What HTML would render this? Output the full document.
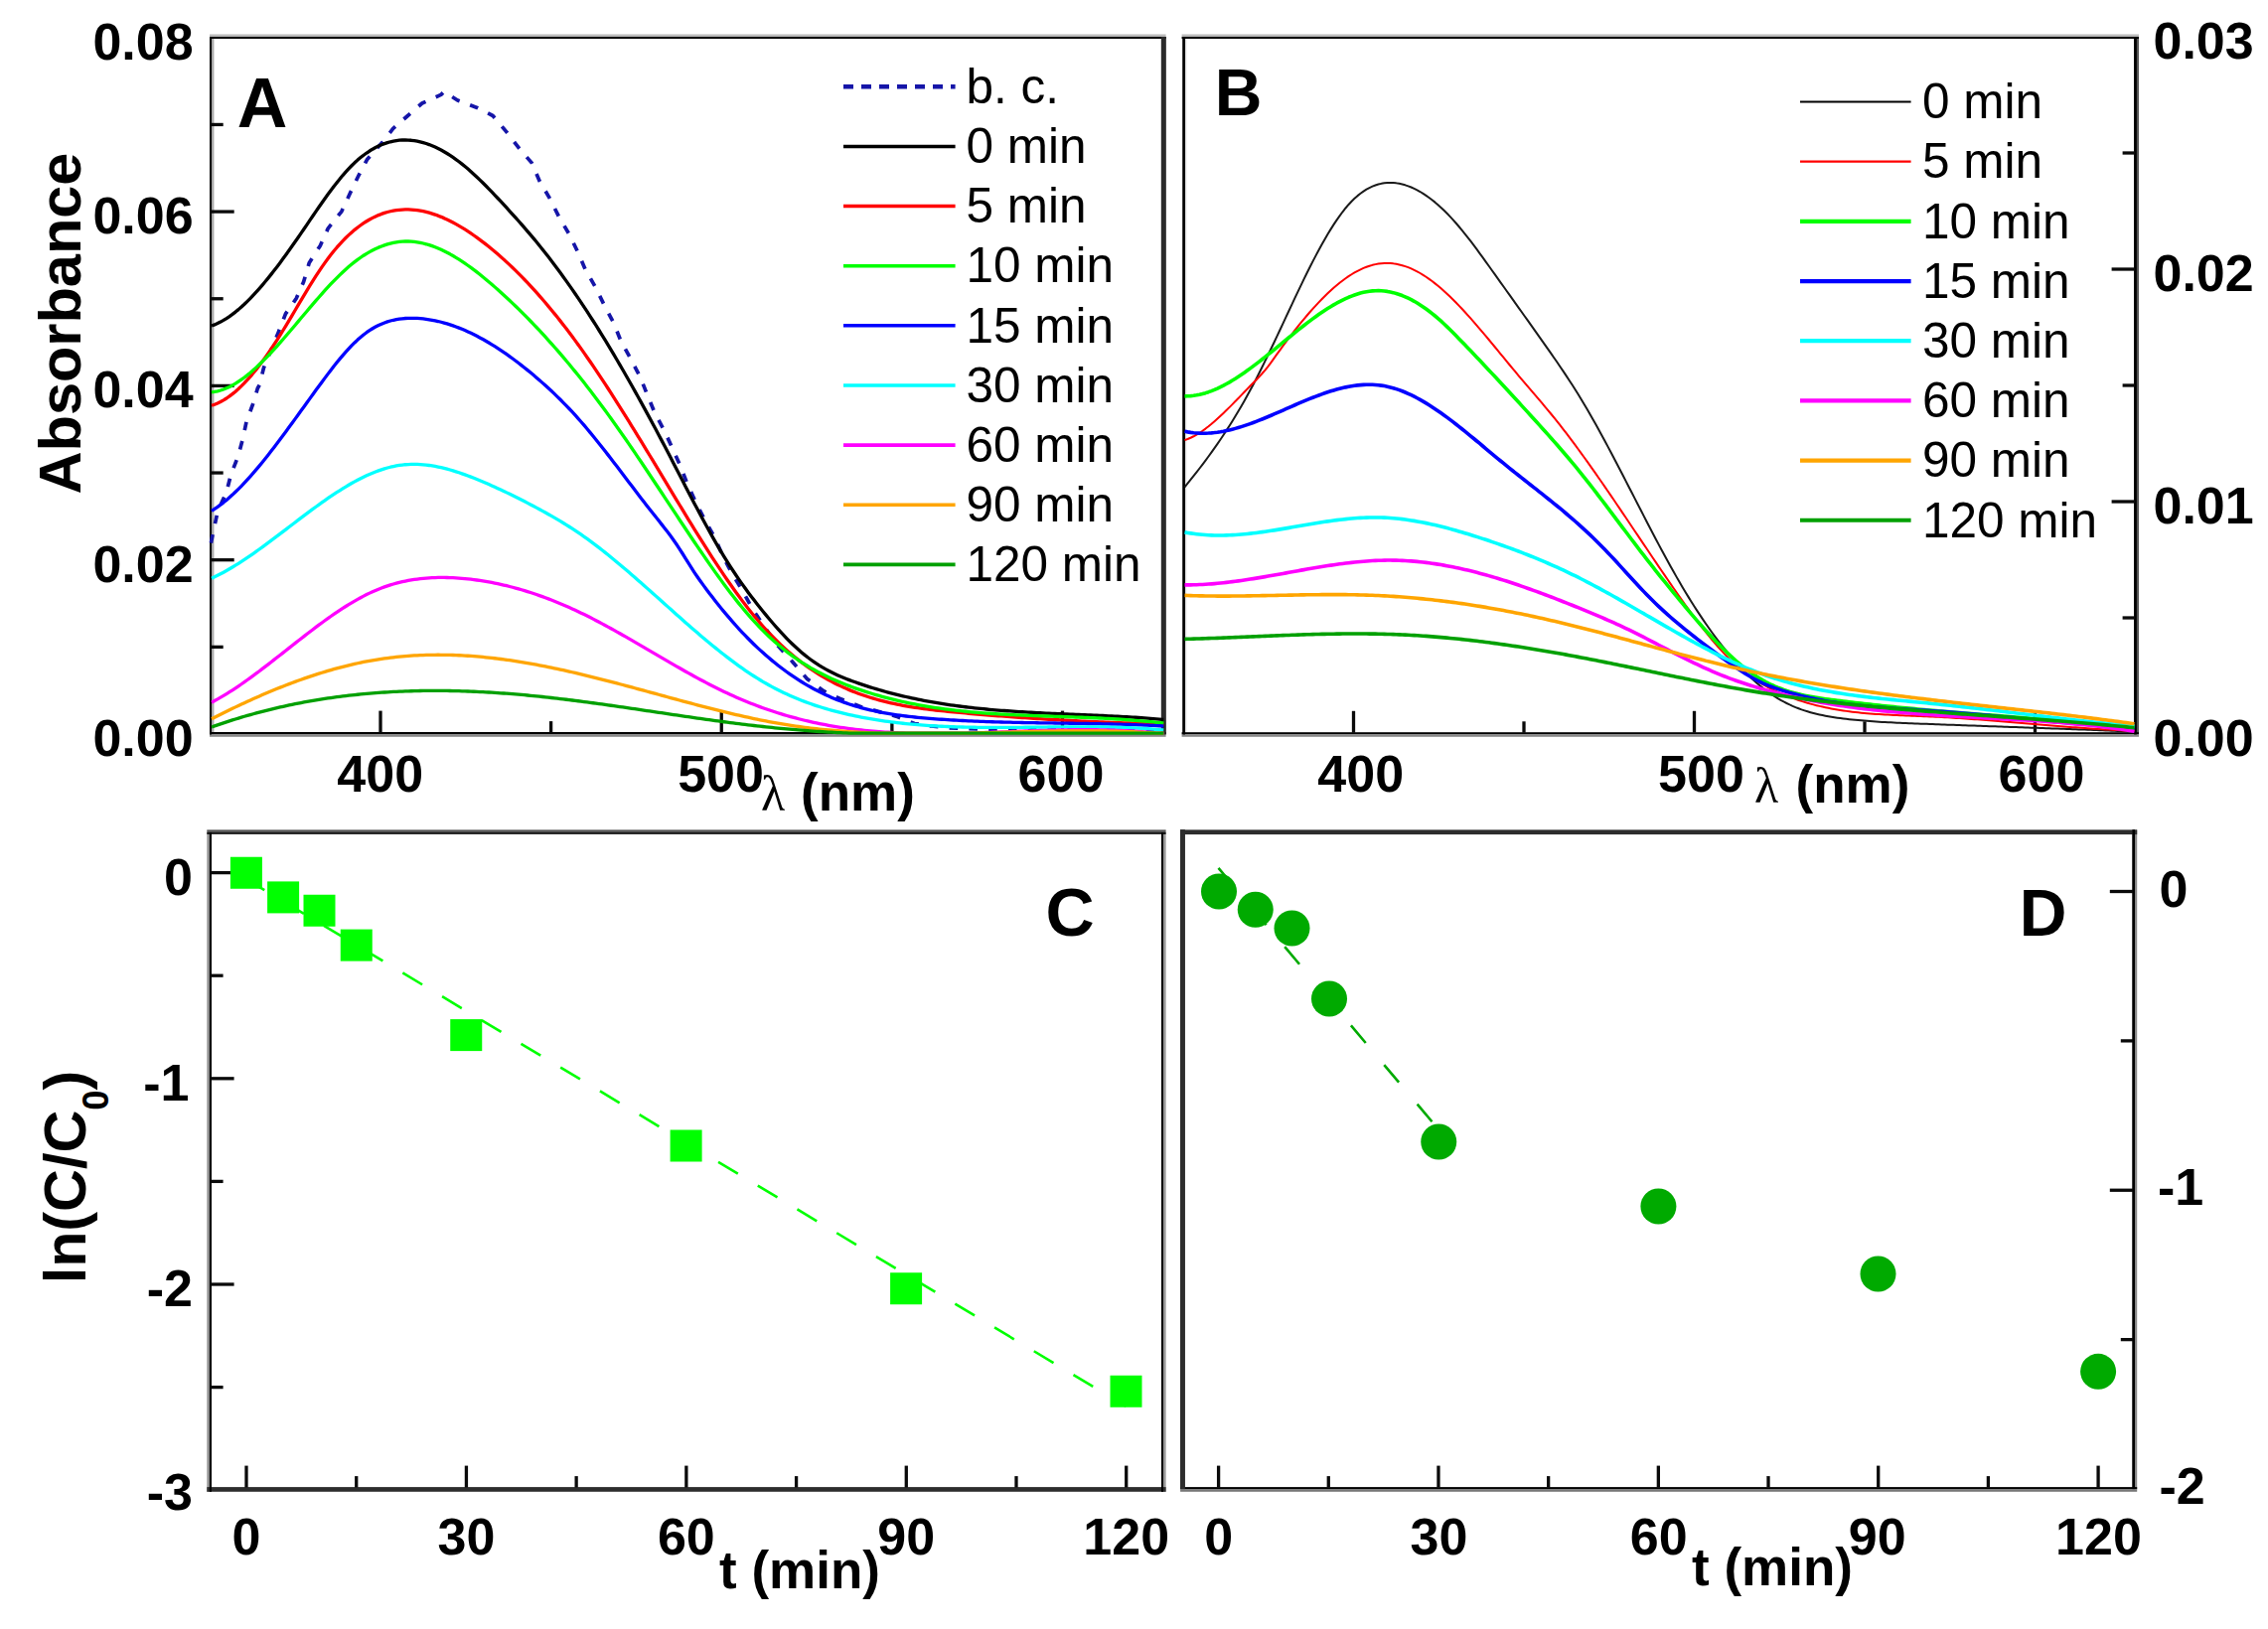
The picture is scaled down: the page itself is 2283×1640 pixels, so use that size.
<!DOCTYPE html>
<html lang="en"><head><meta charset="utf-8"><title>Figure</title>
<style>html,body{margin:0;padding:0;background:#fff}svg{display:block}</style></head>
<body>
<svg width="2283" height="1640" viewBox="0 0 2283 1640">
<rect width="2283" height="1640" fill="#ffffff"/>
<rect x="211" y="37" width="2" height="702.4" fill="#000"/>
<rect x="213" y="37" width="2.4" height="702.4" fill="#aaa"/>
<rect x="1168.9" y="37" width="4.7" height="702.4" fill="#2a2a2a"/>
<rect x="211" y="34.5" width="962.6" height="2.5" fill="#bbb"/>
<rect x="211" y="37" width="962.6" height="2" fill="#000"/>
<rect x="211" y="737" width="962.6" height="2.4" fill="#000"/>
<rect x="211" y="739.4" width="962.6" height="2.4" fill="#888"/>
<rect x="211" y="37" width="2" height="702.4" fill="#000"/>
<rect x="1168.9" y="37" width="4.7" height="702.4" fill="#2a2a2a"/>
<line x1="212.5" y1="213.1" x2="235.7" y2="213.1" stroke="#0a0a0a" stroke-width="3.3"/>
<line x1="212.5" y1="388.4" x2="235.7" y2="388.4" stroke="#0a0a0a" stroke-width="3.3"/>
<line x1="212.5" y1="563.7" x2="235.7" y2="563.7" stroke="#0a0a0a" stroke-width="3.3"/>
<line x1="212.5" y1="125.45" x2="224.7" y2="125.45" stroke="#0a0a0a" stroke-width="3.3"/>
<line x1="212.5" y1="300.75" x2="224.7" y2="300.75" stroke="#0a0a0a" stroke-width="3.3"/>
<line x1="212.5" y1="476.05" x2="224.7" y2="476.05" stroke="#0a0a0a" stroke-width="3.3"/>
<line x1="212.5" y1="651.35" x2="224.7" y2="651.35" stroke="#0a0a0a" stroke-width="3.3"/>
<line x1="383" y1="737.6" x2="383" y2="715.6" stroke="#0a0a0a" stroke-width="3.3"/>
<line x1="726.25" y1="737.6" x2="726.25" y2="715.6" stroke="#0a0a0a" stroke-width="3.3"/>
<line x1="1069.5" y1="737.6" x2="1069.5" y2="715.6" stroke="#0a0a0a" stroke-width="3.3"/>
<line x1="554.62" y1="737.6" x2="554.62" y2="726.1" stroke="#0a0a0a" stroke-width="3.3"/>
<line x1="897.88" y1="737.6" x2="897.88" y2="726.1" stroke="#0a0a0a" stroke-width="3.3"/>
<text x="194.6" y="59.82" font-family='"Liberation Sans", sans-serif' font-size="52" font-weight="bold" text-anchor="end" fill="#000">0.08</text>
<text x="194.6" y="235.12" font-family='"Liberation Sans", sans-serif' font-size="52" font-weight="bold" text-anchor="end" fill="#000">0.06</text>
<text x="194.6" y="410.42" font-family='"Liberation Sans", sans-serif' font-size="52" font-weight="bold" text-anchor="end" fill="#000">0.04</text>
<text x="194.6" y="585.72" font-family='"Liberation Sans", sans-serif' font-size="52" font-weight="bold" text-anchor="end" fill="#000">0.02</text>
<text x="194.6" y="761.02" font-family='"Liberation Sans", sans-serif' font-size="52" font-weight="bold" text-anchor="end" fill="#000">0.00</text>
<text x="382.75" y="797.3" font-family='"Liberation Sans", sans-serif' font-size="52" font-weight="bold" text-anchor="middle" fill="#000">400</text>
<text x="725.6" y="797.3" font-family='"Liberation Sans", sans-serif' font-size="52" font-weight="bold" text-anchor="middle" fill="#000">500</text>
<text x="1068" y="797.3" font-family='"Liberation Sans", sans-serif' font-size="52" font-weight="bold" text-anchor="middle" fill="#000">600</text>
<g fill="none" stroke-linejoin="round" stroke-linecap="butt">
<path d="M212.4 546.6 L215.5 531.7 L219.2 514.5 L227.8 495.9 L232.4 478 L239.6 459.5 L244.5 441.6 L248.2 423.7 L255 405.8 L259.3 391 L261.2 387.5 L265.5 370.2 L280.3 334.4 L287.5 315.9 L298.2 300.5 L305.6 283.8 L311.2 264.7 L322.3 247.4 L330.3 229.8 L343.9 212.8 L352.5 194.3 L361.2 176.3 L369.8 160.2 L385.2 142.9 L395.7 129.4 L409.9 117 L424.8 104 L443.9 95.4 L447 92.3 L460.6 101 L480.3 108.4 L496.1 116.5 L509.7 132.6 L523.5 150.5 L535.4 164.1 L543 182 L553.5 199.9 L562.4 217.8 L572.9 235.7 L581.3 253 L589.3 271.5 L599.2 288.8 L608.5 307.7 L617.7 325 L625.1 343.5 L635 361.4 L644.3 379.3 L651.7 397.8 L659.1 415.7 L669 434.2 L677 451.5 L685 469.4 L692.4 488.5 L699.8 504.3 L709.7 524.1 L719.6 541.4 L728.2 561.1 L736.9 577.2 L748 595.7 L757.8 613.6 L770 632 L783 650 L797.7 666.2 L812.5 683.5 L829.2 695.8 L845.2 703.2 L867.5 711.9 L885 716.5 L902 721.1 L920.6 728.5 L937.2 731 L954.5 732.8 L973.6 733.5 L992.2 734.3 L1010 734.7 L1045 734.7 L1100 735 L1169 735.5" stroke="#1515a8" stroke-width="3.7" stroke-dasharray="8.6 11.2"/>
<path d="M213 328.04 L216 326.91 L219 325.6 L222 324.1 L225 322.43 L228 320.59 L231 318.59 L234 316.42 L237 314.1 L240 311.63 L243 309.01 L246 306.26 L249 303.37 L252 300.36 L255 297.22 L258 293.97 L261 290.6 L264 287.13 L267 283.56 L270 279.9 L273 276.14 L276 272.3 L279 268.38 L282 264.39 L285 260.33 L288 256.21 L291 252.03 L294 247.8 L297 243.52 L300 239.2 L303 234.84 L306 230.46 L309 226.06 L312 221.65 L315 217.25 L318 212.87 L321 208.52 L324 204.22 L327 199.98 L330 195.82 L333 191.74 L336 187.76 L339 183.9 L342 180.16 L345 176.56 L348 173.12 L351 169.84 L354 166.75 L357 163.84 L360 161.11 L363 158.57 L366 156.21 L369 154.03 L372 152.03 L375 150.2 L378 148.54 L381 147.06 L384 145.74 L387 144.59 L390 143.6 L393 142.77 L396 142.1 L399 141.58 L402 141.22 L405 141.01 L408 140.95 L411 141.04 L414 141.27 L417 141.64 L420 142.16 L423 142.81 L426 143.6 L429 144.52 L432 145.57 L435 146.75 L438 148.05 L441 149.48 L444 151.03 L447 152.71 L450 154.49 L453 156.4 L456 158.41 L459 160.54 L462 162.77 L465 165.11 L468 167.55 L471 170.09 L474 172.72 L477 175.43 L480 178.22 L483 181.09 L486 184.02 L489 187.02 L492 190.07 L495 193.17 L498 196.32 L501 199.5 L504 202.72 L507 205.97 L510 209.23 L513 212.52 L516 215.82 L519 219.15 L522 222.51 L525 225.91 L528 229.34 L531 232.82 L534 236.34 L537 239.92 L540 243.55 L543 247.23 L546 250.97 L549 254.76 L552 258.61 L555 262.51 L558 266.47 L561 270.48 L564 274.54 L567 278.67 L570 282.85 L573 287.08 L576 291.38 L579 295.73 L582 300.13 L585 304.59 L588 309.11 L591 313.68 L594 318.31 L597 322.99 L600 327.72 L603 332.5 L606 337.33 L609 342.21 L612 347.14 L615 352.12 L618 357.14 L621 362.22 L624 367.34 L627 372.5 L630 377.71 L633 382.96 L636 388.25 L639 393.59 L642 398.96 L645 404.38 L648 409.84 L651 415.34 L654 420.87 L657 426.44 L660 432.05 L663 437.7 L666 443.37 L669 449.09 L672 454.84 L675 460.61 L678 466.41 L681 472.22 L684 478.04 L687 483.85 L690 489.65 L693 495.44 L696 501.19 L699 506.92 L702 512.6 L705 518.24 L708 523.82 L711 529.33 L714 534.77 L717 540.13 L720 545.4 L723 550.58 L726 555.65 L729 560.61 L732 565.45 L735 570.17 L738 574.77 L741 579.25 L744 583.62 L747 587.9 L750 592.08 L753 596.16 L756 600.17 L759 604.1 L762 607.95 L765 611.75 L768 615.48 L771 619.15 L774 622.76 L777 626.29 L780 629.75 L783 633.13 L786 636.43 L789 639.64 L792 642.77 L795 645.8 L798 648.73 L801 651.56 L804 654.28 L807 656.89 L810 659.39 L813 661.77 L816 664.03 L819 666.17 L822 668.19 L825 670.11 L828 671.92 L831 673.64 L834 675.26 L837 676.8 L840 678.26 L843 679.65 L846 680.98 L849 682.24 L852 683.45 L855 684.61 L858 685.73 L861 686.81 L864 687.86 L867 688.88 L870 689.88 L873 690.86 L876 691.81 L879 692.74 L882 693.65 L885 694.53 L888 695.39 L891 696.23 L894 697.04 L897 697.84 L900 698.61 L903 699.37 L906 700.1 L909 700.81 L912 701.51 L915 702.18 L918 702.84 L921 703.47 L924 704.09 L927 704.69 L930 705.27 L933 705.84 L936 706.39 L939 706.92 L942 707.43 L945 707.93 L948 708.41 L951 708.88 L954 709.33 L957 709.77 L960 710.19 L963 710.6 L966 711 L969 711.38 L972 711.75 L975 712.11 L978 712.45 L981 712.78 L984 713.1 L987 713.41 L990 713.71 L993 714 L996 714.28 L999 714.55 L1002 714.8 L1005 715.05 L1008 715.29 L1011 715.52 L1014 715.75 L1017 715.96 L1020 716.17 L1023 716.37 L1026 716.56 L1029 716.75 L1032 716.93 L1035 717.1 L1038 717.27 L1041 717.43 L1044 717.59 L1047 717.75 L1050 717.9 L1053 718.04 L1056 718.18 L1059 718.32 L1062 718.46 L1065 718.59 L1068 718.72 L1071 718.85 L1074 718.98 L1077 719.11 L1080 719.24 L1083 719.36 L1086 719.49 L1089 719.61 L1092 719.74 L1095 719.86 L1098 719.99 L1101 720.12 L1104 720.25 L1107 720.38 L1110 720.52 L1113 720.66 L1116 720.8 L1119 720.95 L1122 721.1 L1125 721.25 L1128 721.41 L1131 721.57 L1134 721.74 L1137 721.91 L1140 722.09 L1143 722.27 L1146 722.47 L1149 722.67 L1152 722.87 L1155 723.09 L1158 723.31 L1161 723.54 L1164 723.78 L1167 724.02 L1170 724.28 L1171.3 724.39" stroke="#000000" stroke-width="3.3"/>
<path d="M213 408.23 L216 407.22 L219 405.99 L222 404.54 L225 402.87 L228 401 L231 398.92 L234 396.64 L237 394.17 L240 391.5 L243 388.66 L246 385.63 L249 382.44 L252 379.07 L255 375.55 L258 371.86 L261 368.02 L264 364.04 L267 359.92 L270 355.65 L273 351.26 L276 346.74 L279 342.1 L282 337.35 L285 332.5 L288 327.57 L291 322.58 L294 317.55 L297 312.49 L300 307.42 L303 302.37 L306 297.35 L309 292.38 L312 287.47 L315 282.65 L318 277.93 L321 273.34 L324 268.88 L327 264.58 L330 260.46 L333 256.52 L336 252.76 L339 249.19 L342 245.79 L345 242.56 L348 239.51 L351 236.62 L354 233.91 L357 231.36 L360 228.97 L363 226.74 L366 224.67 L369 222.76 L372 221 L375 219.39 L378 217.92 L381 216.61 L384 215.43 L387 214.4 L390 213.51 L393 212.75 L396 212.12 L399 211.63 L402 211.27 L405 211.03 L408 210.92 L411 210.92 L414 211.05 L417 211.29 L420 211.65 L423 212.12 L426 212.7 L429 213.39 L432 214.18 L435 215.08 L438 216.07 L441 217.16 L444 218.35 L447 219.63 L450 221 L453 222.45 L456 224 L459 225.62 L462 227.33 L465 229.11 L468 230.97 L471 232.91 L474 234.91 L477 236.99 L480 239.13 L483 241.33 L486 243.59 L489 245.92 L492 248.3 L495 250.75 L498 253.25 L501 255.81 L504 258.43 L507 261.11 L510 263.85 L513 266.65 L516 269.51 L519 272.42 L522 275.39 L525 278.43 L528 281.52 L531 284.67 L534 287.87 L537 291.14 L540 294.46 L543 297.84 L546 301.28 L549 304.77 L552 308.32 L555 311.93 L558 315.6 L561 319.32 L564 323.11 L567 326.94 L570 330.84 L573 334.79 L576 338.8 L579 342.86 L582 346.98 L585 351.16 L588 355.39 L591 359.68 L594 364.01 L597 368.4 L600 372.83 L603 377.31 L606 381.83 L609 386.4 L612 391 L615 395.64 L618 400.32 L621 405.03 L624 409.77 L627 414.55 L630 419.35 L633 424.17 L636 429.02 L639 433.89 L642 438.79 L645 443.69 L648 448.62 L651 453.56 L654 458.51 L657 463.47 L660 468.44 L663 473.42 L666 478.4 L669 483.38 L672 488.36 L675 493.35 L678 498.32 L681 503.29 L684 508.25 L687 513.2 L690 518.13 L693 523.04 L696 527.93 L699 532.79 L702 537.63 L705 542.43 L708 547.2 L711 551.93 L714 556.62 L717 561.27 L720 565.86 L723 570.41 L726 574.91 L729 579.35 L732 583.73 L735 588.04 L738 592.29 L741 596.48 L744 600.59 L747 604.62 L750 608.58 L753 612.45 L756 616.25 L759 619.95 L762 623.57 L765 627.09 L768 630.51 L771 633.84 L774 637.08 L777 640.22 L780 643.28 L783 646.24 L786 649.12 L789 651.91 L792 654.62 L795 657.24 L798 659.79 L801 662.25 L804 664.63 L807 666.94 L810 669.17 L813 671.33 L816 673.42 L819 675.43 L822 677.38 L825 679.26 L828 681.07 L831 682.81 L834 684.5 L837 686.12 L840 687.68 L843 689.18 L846 690.62 L849 692.01 L852 693.35 L855 694.63 L858 695.86 L861 697.04 L864 698.17 L867 699.25 L870 700.29 L873 701.29 L876 702.24 L879 703.15 L882 704.02 L885 704.85 L888 705.65 L891 706.41 L894 707.13 L897 707.82 L900 708.47 L903 709.1 L906 709.7 L909 710.26 L912 710.81 L915 711.32 L918 711.81 L921 712.28 L924 712.73 L927 713.15 L930 713.56 L933 713.95 L936 714.32 L939 714.67 L942 715.02 L945 715.35 L948 715.67 L951 715.98 L954 716.28 L957 716.57 L960 716.86 L963 717.14 L966 717.42 L969 717.7 L972 717.97 L975 718.24 L978 718.5 L981 718.77 L984 719.02 L987 719.28 L990 719.53 L993 719.78 L996 720.03 L999 720.27 L1002 720.51 L1005 720.74 L1008 720.97 L1011 721.2 L1014 721.43 L1017 721.65 L1020 721.87 L1023 722.08 L1026 722.29 L1029 722.5 L1032 722.71 L1035 722.91 L1038 723.11 L1041 723.31 L1044 723.5 L1047 723.69 L1050 723.88 L1053 724.06 L1056 724.24 L1059 724.42 L1062 724.59 L1065 724.77 L1068 724.93 L1071 725.1 L1074 725.26 L1077 725.42 L1080 725.58 L1083 725.73 L1086 725.88 L1089 726.03 L1092 726.18 L1095 726.32 L1098 726.46 L1101 726.59 L1104 726.73 L1107 726.86 L1110 726.99 L1113 727.11 L1116 727.23 L1119 727.35 L1122 727.47 L1125 727.59 L1128 727.7 L1131 727.81 L1134 727.91 L1137 728.02 L1140 728.12 L1143 728.22 L1146 728.31 L1149 728.4 L1152 728.49 L1155 728.58 L1158 728.67 L1161 728.75 L1164 728.83 L1167 728.91 L1170 728.98 L1171.3 729.01" stroke="#ff0000" stroke-width="3.3"/>
<path d="M213 394.84 L216 394.45 L219 393.84 L222 393.03 L225 392.01 L228 390.81 L231 389.42 L234 387.86 L237 386.13 L240 384.23 L243 382.18 L246 379.99 L249 377.65 L252 375.19 L255 372.59 L258 369.89 L261 367.07 L264 364.15 L267 361.14 L270 358.04 L273 354.86 L276 351.6 L279 348.29 L282 344.91 L285 341.49 L288 338.02 L291 334.52 L294 330.99 L297 327.44 L300 323.88 L303 320.31 L306 316.74 L309 313.19 L312 309.65 L315 306.13 L318 302.65 L321 299.21 L324 295.81 L327 292.47 L330 289.19 L333 285.97 L336 282.84 L339 279.79 L342 276.83 L345 273.97 L348 271.21 L351 268.57 L354 266.05 L357 263.66 L360 261.39 L363 259.25 L366 257.24 L369 255.36 L372 253.61 L375 251.99 L378 250.51 L381 249.15 L384 247.93 L387 246.84 L390 245.88 L393 245.06 L396 244.38 L399 243.83 L402 243.42 L405 243.15 L408 243.02 L411 243.02 L414 243.16 L417 243.44 L420 243.84 L423 244.36 L426 245.01 L429 245.78 L432 246.67 L435 247.66 L438 248.77 L441 249.98 L444 251.3 L447 252.71 L450 254.23 L453 255.83 L456 257.53 L459 259.31 L462 261.17 L465 263.12 L468 265.14 L471 267.24 L474 269.4 L477 271.64 L480 273.93 L483 276.29 L486 278.71 L489 281.17 L492 283.69 L495 286.26 L498 288.88 L501 291.53 L504 294.22 L507 296.95 L510 299.72 L513 302.52 L516 305.37 L519 308.25 L522 311.17 L525 314.13 L528 317.13 L531 320.17 L534 323.24 L537 326.36 L540 329.51 L543 332.7 L546 335.94 L549 339.21 L552 342.52 L555 345.87 L558 349.26 L561 352.68 L564 356.15 L567 359.66 L570 363.21 L573 366.8 L576 370.43 L579 374.09 L582 377.8 L585 381.55 L588 385.34 L591 389.17 L594 393.04 L597 396.95 L600 400.9 L603 404.9 L606 408.93 L609 413.01 L612 417.12 L615 421.27 L618 425.47 L621 429.69 L624 433.95 L627 438.24 L630 442.56 L633 446.91 L636 451.29 L639 455.68 L642 460.1 L645 464.54 L648 469 L651 473.48 L654 477.96 L657 482.47 L660 486.98 L663 491.5 L666 496.03 L669 500.56 L672 505.09 L675 509.63 L678 514.17 L681 518.7 L684 523.23 L687 527.75 L690 532.27 L693 536.76 L696 541.25 L699 545.71 L702 550.14 L705 554.55 L708 558.93 L711 563.28 L714 567.59 L717 571.85 L720 576.08 L723 580.25 L726 584.38 L729 588.45 L732 592.46 L735 596.41 L738 600.3 L741 604.12 L744 607.87 L747 611.55 L750 615.14 L753 618.66 L756 622.09 L759 625.44 L762 628.69 L765 631.85 L768 634.91 L771 637.87 L774 640.75 L777 643.53 L780 646.22 L783 648.82 L786 651.34 L789 653.78 L792 656.13 L795 658.41 L798 660.61 L801 662.73 L804 664.78 L807 666.76 L810 668.68 L813 670.52 L816 672.31 L819 674.03 L822 675.69 L825 677.3 L828 678.84 L831 680.34 L834 681.78 L837 683.18 L840 684.53 L843 685.83 L846 687.09 L849 688.31 L852 689.49 L855 690.64 L858 691.75 L861 692.83 L864 693.88 L867 694.9 L870 695.89 L873 696.86 L876 697.8 L879 698.71 L882 699.6 L885 700.46 L888 701.3 L891 702.11 L894 702.9 L897 703.66 L900 704.4 L903 705.12 L906 705.82 L909 706.49 L912 707.14 L915 707.77 L918 708.38 L921 708.97 L924 709.54 L927 710.09 L930 710.62 L933 711.13 L936 711.62 L939 712.1 L942 712.55 L945 712.99 L948 713.42 L951 713.83 L954 714.22 L957 714.59 L960 714.95 L963 715.3 L966 715.63 L969 715.95 L972 716.26 L975 716.55 L978 716.83 L981 717.1 L984 717.36 L987 717.6 L990 717.84 L993 718.06 L996 718.27 L999 718.48 L1002 718.67 L1005 718.86 L1008 719.04 L1011 719.21 L1014 719.37 L1017 719.53 L1020 719.68 L1023 719.82 L1026 719.96 L1029 720.09 L1032 720.22 L1035 720.34 L1038 720.46 L1041 720.57 L1044 720.68 L1047 720.79 L1050 720.9 L1053 721 L1056 721.11 L1059 721.21 L1062 721.31 L1065 721.41 L1068 721.51 L1071 721.61 L1074 721.71 L1077 721.82 L1080 721.92 L1083 722.03 L1086 722.14 L1089 722.25 L1092 722.37 L1095 722.49 L1098 722.61 L1101 722.74 L1104 722.87 L1107 723.01 L1110 723.16 L1113 723.31 L1116 723.47 L1119 723.64 L1122 723.81 L1125 723.99 L1128 724.18 L1131 724.38 L1134 724.59 L1137 724.81 L1140 725.03 L1143 725.27 L1146 725.52 L1149 725.78 L1152 726.06 L1155 726.34 L1158 726.64 L1161 726.95 L1164 727.27 L1167 727.61 L1170 727.96 L1171.3 728.12" stroke="#00ff00" stroke-width="3.3"/>
<path d="M213 514.32 L216 512.41 L219 510.36 L222 508.17 L225 505.84 L228 503.38 L231 500.79 L234 498.09 L237 495.26 L240 492.33 L243 489.29 L246 486.15 L249 482.91 L252 479.57 L255 476.16 L258 472.65 L261 469.08 L264 465.43 L267 461.71 L270 457.93 L273 454.09 L276 450.19 L279 446.25 L282 442.27 L285 438.25 L288 434.19 L291 430.1 L294 425.99 L297 421.87 L300 417.72 L303 413.57 L306 409.42 L309 405.26 L312 401.11 L315 396.97 L318 392.84 L321 388.74 L324 384.66 L327 380.62 L330 376.63 L333 372.7 L336 368.85 L339 365.08 L342 361.41 L345 357.85 L348 354.41 L351 351.11 L354 347.94 L357 344.94 L360 342.1 L363 339.45 L366 336.98 L369 334.72 L372 332.65 L375 330.76 L378 329.06 L381 327.53 L384 326.17 L387 324.97 L390 323.92 L393 323.02 L396 322.27 L399 321.64 L402 321.14 L405 320.77 L408 320.5 L411 320.35 L414 320.3 L417 320.34 L420 320.46 L423 320.67 L426 320.96 L429 321.32 L432 321.76 L435 322.27 L438 322.86 L441 323.52 L444 324.25 L447 325.06 L450 325.93 L453 326.88 L456 327.89 L459 328.97 L462 330.11 L465 331.32 L468 332.6 L471 333.94 L474 335.34 L477 336.81 L480 338.33 L483 339.92 L486 341.56 L489 343.26 L492 345.02 L495 346.84 L498 348.7 L501 350.63 L504 352.61 L507 354.64 L510 356.72 L513 358.85 L516 361.03 L519 363.26 L522 365.53 L525 367.86 L528 370.22 L531 372.64 L534 375.09 L537 377.59 L540 380.14 L543 382.73 L546 385.37 L549 388.05 L552 390.79 L555 393.58 L558 396.42 L561 399.32 L564 402.28 L567 405.29 L570 408.37 L573 411.51 L576 414.71 L579 417.98 L582 421.31 L585 424.72 L588 428.19 L591 431.72 L594 435.32 L597 438.97 L600 442.67 L603 446.41 L606 450.2 L609 454.02 L612 457.88 L615 461.76 L618 465.67 L621 469.59 L624 473.53 L627 477.48 L630 481.44 L633 485.4 L636 489.35 L639 493.3 L642 497.23 L645 501.15 L648 505.04 L651 508.91 L654 512.75 L657 516.56 L660 520.33 L663 524.08 L666 527.85 L669 531.66 L672 535.55 L675 539.56 L678 543.7 L681 548.02 L684 552.54 L687 557.25 L690 562.05 L693 566.88 L696 571.65 L699 576.29 L702 580.73 L705 584.98 L708 589.11 L711 593.17 L714 597.16 L717 601.09 L720 604.94 L723 608.73 L726 612.44 L729 616.09 L732 619.67 L735 623.18 L738 626.62 L741 629.98 L744 633.28 L747 636.51 L750 639.66 L753 642.75 L756 645.76 L759 648.7 L762 651.57 L765 654.37 L768 657.09 L771 659.75 L774 662.34 L777 664.87 L780 667.32 L783 669.71 L786 672.03 L789 674.29 L792 676.49 L795 678.62 L798 680.68 L801 682.69 L804 684.63 L807 686.51 L810 688.34 L813 690.1 L816 691.8 L819 693.45 L822 695.04 L825 696.57 L828 698.05 L831 699.47 L834 700.83 L837 702.15 L840 703.41 L843 704.61 L846 705.77 L849 706.88 L852 707.93 L855 708.94 L858 709.91 L861 710.83 L864 711.71 L867 712.55 L870 713.34 L873 714.1 L876 714.82 L879 715.5 L882 716.15 L885 716.77 L888 717.35 L891 717.9 L894 718.42 L897 718.92 L900 719.38 L903 719.82 L906 720.24 L909 720.63 L912 721 L915 721.36 L918 721.69 L921 722 L924 722.3 L927 722.58 L930 722.85 L933 723.11 L936 723.35 L939 723.59 L942 723.82 L945 724.04 L948 724.25 L951 724.45 L954 724.64 L957 724.83 L960 725.01 L963 725.18 L966 725.34 L969 725.5 L972 725.65 L975 725.79 L978 725.93 L981 726.06 L984 726.18 L987 726.3 L990 726.42 L993 726.53 L996 726.63 L999 726.73 L1002 726.82 L1005 726.91 L1008 726.99 L1011 727.07 L1014 727.15 L1017 727.22 L1020 727.29 L1023 727.36 L1026 727.42 L1029 727.48 L1032 727.54 L1035 727.6 L1038 727.65 L1041 727.7 L1044 727.75 L1047 727.8 L1050 727.84 L1053 727.89 L1056 727.93 L1059 727.97 L1062 728.02 L1065 728.06 L1068 728.1 L1071 728.14 L1074 728.18 L1077 728.23 L1080 728.27 L1083 728.31 L1086 728.36 L1089 728.4 L1092 728.45 L1095 728.5 L1098 728.55 L1101 728.61 L1104 728.66 L1107 728.72 L1110 728.78 L1113 728.85 L1116 728.91 L1119 728.98 L1122 729.06 L1125 729.14 L1128 729.22 L1131 729.3 L1134 729.39 L1137 729.49 L1140 729.59 L1143 729.69 L1146 729.8 L1149 729.92 L1152 730.04 L1155 730.17 L1158 730.3 L1161 730.44 L1164 730.58 L1167 730.74 L1170 730.89 L1171.3 730.97" stroke="#0000ff" stroke-width="3.3"/>
<path d="M213 582.25 L216 580.83 L219 579.35 L222 577.8 L225 576.19 L228 574.52 L231 572.79 L234 571.01 L237 569.18 L240 567.3 L243 565.37 L246 563.4 L249 561.39 L252 559.35 L255 557.27 L258 555.15 L261 553.01 L264 550.84 L267 548.64 L270 546.43 L273 544.19 L276 541.94 L279 539.67 L282 537.4 L285 535.11 L288 532.83 L291 530.53 L294 528.24 L297 525.95 L300 523.67 L303 521.39 L306 519.13 L309 516.88 L312 514.64 L315 512.43 L318 510.23 L321 508.06 L324 505.92 L327 503.8 L330 501.72 L333 499.67 L336 497.67 L339 495.7 L342 493.77 L345 491.89 L348 490.06 L351 488.28 L354 486.55 L357 484.88 L360 483.27 L363 481.72 L366 480.24 L369 478.82 L372 477.47 L375 476.2 L378 475 L381 473.88 L384 472.84 L387 471.88 L390 471.01 L393 470.23 L396 469.53 L399 468.94 L402 468.44 L405 468.04 L408 467.73 L411 467.53 L414 467.41 L417 467.38 L420 467.44 L423 467.59 L426 467.81 L429 468.11 L432 468.49 L435 468.94 L438 469.46 L441 470.05 L444 470.7 L447 471.41 L450 472.18 L453 473.01 L456 473.89 L459 474.82 L462 475.8 L465 476.83 L468 477.89 L471 479 L474 480.14 L477 481.31 L480 482.52 L483 483.75 L486 485.01 L489 486.29 L492 487.6 L495 488.93 L498 490.27 L501 491.64 L504 493.03 L507 494.44 L510 495.87 L513 497.32 L516 498.79 L519 500.27 L522 501.77 L525 503.29 L528 504.82 L531 506.37 L534 507.94 L537 509.52 L540 511.11 L543 512.72 L546 514.36 L549 516.01 L552 517.69 L555 519.39 L558 521.12 L561 522.88 L564 524.66 L567 526.49 L570 528.34 L573 530.24 L576 532.17 L579 534.14 L582 536.15 L585 538.21 L588 540.31 L591 542.46 L594 544.64 L597 546.87 L600 549.13 L603 551.43 L606 553.77 L609 556.14 L612 558.54 L615 560.97 L618 563.42 L621 565.91 L624 568.42 L627 570.95 L630 573.51 L633 576.08 L636 578.67 L639 581.28 L642 583.91 L645 586.55 L648 589.2 L651 591.86 L654 594.53 L657 597.2 L660 599.88 L663 602.57 L666 605.26 L669 607.95 L672 610.63 L675 613.32 L678 616 L681 618.67 L684 621.34 L687 623.99 L690 626.64 L693 629.28 L696 631.89 L699 634.5 L702 637.09 L705 639.65 L708 642.2 L711 644.72 L714 647.23 L717 649.7 L720 652.15 L723 654.57 L726 656.96 L729 659.31 L732 661.64 L735 663.93 L738 666.18 L741 668.39 L744 670.56 L747 672.69 L750 674.78 L753 676.82 L756 678.82 L759 680.76 L762 682.66 L765 684.5 L768 686.3 L771 688.04 L774 689.73 L777 691.36 L780 692.95 L783 694.5 L786 695.99 L789 697.44 L792 698.84 L795 700.2 L798 701.51 L801 702.78 L804 704.01 L807 705.2 L810 706.35 L813 707.47 L816 708.54 L819 709.58 L822 710.58 L825 711.55 L828 712.48 L831 713.39 L834 714.26 L837 715.1 L840 715.91 L843 716.69 L846 717.44 L849 718.17 L852 718.87 L855 719.54 L858 720.2 L861 720.83 L864 721.43 L867 722.02 L870 722.59 L873 723.13 L876 723.66 L879 724.17 L882 724.66 L885 725.12 L888 725.57 L891 726.01 L894 726.42 L897 726.82 L900 727.2 L903 727.56 L906 727.91 L909 728.24 L912 728.56 L915 728.86 L918 729.14 L921 729.41 L924 729.67 L927 729.91 L930 730.14 L933 730.35 L936 730.56 L939 730.74 L942 730.92 L945 731.09 L948 731.24 L951 731.38 L954 731.52 L957 731.64 L960 731.75 L963 731.85 L966 731.94 L969 732.02 L972 732.1 L975 732.16 L978 732.22 L981 732.27 L984 732.31 L987 732.35 L990 732.38 L993 732.4 L996 732.41 L999 732.42 L1002 732.43 L1005 732.43 L1008 732.42 L1011 732.41 L1014 732.4 L1017 732.38 L1020 732.36 L1023 732.34 L1026 732.32 L1029 732.29 L1032 732.26 L1035 732.23 L1038 732.19 L1041 732.16 L1044 732.13 L1047 732.09 L1050 732.06 L1053 732.03 L1056 731.99 L1059 731.96 L1062 731.93 L1065 731.91 L1068 731.88 L1071 731.86 L1074 731.84 L1077 731.82 L1080 731.81 L1083 731.8 L1086 731.79 L1089 731.79 L1092 731.8 L1095 731.81 L1098 731.82 L1101 731.84 L1104 731.87 L1107 731.91 L1110 731.95 L1113 732 L1116 732.06 L1119 732.12 L1122 732.19 L1125 732.28 L1128 732.37 L1131 732.47 L1134 732.58 L1137 732.7 L1140 732.83 L1143 732.97 L1146 733.13 L1149 733.29 L1152 733.47 L1155 733.66 L1158 733.86 L1161 734.08 L1164 734.3 L1167 734.55 L1170 734.8 L1171.3 734.92" stroke="#00ffff" stroke-width="3.3"/>
<path d="M213 707.17 L216 705.57 L219 703.91 L222 702.19 L225 700.42 L228 698.59 L231 696.71 L234 694.79 L237 692.82 L240 690.8 L243 688.75 L246 686.65 L249 684.52 L252 682.36 L255 680.17 L258 677.95 L261 675.7 L264 673.43 L267 671.14 L270 668.84 L273 666.51 L276 664.17 L279 661.82 L282 659.47 L285 657.1 L288 654.74 L291 652.37 L294 650 L297 647.64 L300 645.29 L303 642.94 L306 640.61 L309 638.28 L312 635.98 L315 633.69 L318 631.43 L321 629.19 L324 626.97 L327 624.79 L330 622.63 L333 620.51 L336 618.43 L339 616.38 L342 614.38 L345 612.42 L348 610.5 L351 608.63 L354 606.82 L357 605.06 L360 603.35 L363 601.7 L366 600.12 L369 598.59 L372 597.13 L375 595.75 L378 594.43 L381 593.18 L384 592.01 L387 590.9 L390 589.87 L393 588.9 L396 588 L399 587.17 L402 586.39 L405 585.68 L408 585.03 L411 584.44 L414 583.91 L417 583.43 L420 583.01 L423 582.64 L426 582.32 L429 582.06 L432 581.84 L435 581.67 L438 581.55 L441 581.47 L444 581.44 L447 581.45 L450 581.5 L453 581.59 L456 581.72 L459 581.89 L462 582.09 L465 582.32 L468 582.59 L471 582.89 L474 583.23 L477 583.59 L480 583.99 L483 584.43 L486 584.89 L489 585.38 L492 585.91 L495 586.47 L498 587.06 L501 587.68 L504 588.33 L507 589.02 L510 589.73 L513 590.48 L516 591.25 L519 592.06 L522 592.89 L525 593.76 L528 594.65 L531 595.58 L534 596.53 L537 597.52 L540 598.53 L543 599.57 L546 600.65 L549 601.75 L552 602.87 L555 604.03 L558 605.22 L561 606.43 L564 607.67 L567 608.94 L570 610.24 L573 611.56 L576 612.92 L579 614.3 L582 615.7 L585 617.14 L588 618.59 L591 620.08 L594 621.59 L597 623.12 L600 624.67 L603 626.25 L606 627.84 L609 629.46 L612 631.09 L615 632.73 L618 634.39 L621 636.07 L624 637.76 L627 639.46 L630 641.17 L633 642.89 L636 644.62 L639 646.36 L642 648.1 L645 649.85 L648 651.6 L651 653.36 L654 655.12 L657 656.87 L660 658.63 L663 660.39 L666 662.14 L669 663.89 L672 665.64 L675 667.38 L678 669.11 L681 670.84 L684 672.55 L687 674.26 L690 675.95 L693 677.63 L696 679.3 L699 680.95 L702 682.59 L705 684.21 L708 685.81 L711 687.39 L714 688.95 L717 690.49 L720 692.01 L723 693.5 L726 694.97 L729 696.41 L732 697.83 L735 699.22 L738 700.58 L741 701.91 L744 703.22 L747 704.49 L750 705.74 L753 706.97 L756 708.16 L759 709.33 L762 710.47 L765 711.59 L768 712.68 L771 713.74 L774 714.78 L777 715.79 L780 716.78 L783 717.74 L786 718.67 L789 719.58 L792 720.46 L795 721.32 L798 722.16 L801 722.96 L804 723.75 L807 724.51 L810 725.25 L813 725.96 L816 726.65 L819 727.31 L822 727.95 L825 728.57 L828 729.16 L831 729.74 L834 730.29 L837 730.82 L840 731.33 L843 731.81 L846 732.28 L849 732.73 L852 733.15 L855 733.56 L858 733.95 L861 734.32 L864 734.67 L867 735.01 L870 735.32 L873 735.62 L876 735.9 L879 736.17 L882 736.42 L885 736.65 L888 736.87 L891 737.07 L894 737.26 L897 737.43 L900 737.59 L903 737.74 L906 737.87 L909 737.99 L912 738.09 L915 738.19 L918 738.2 L921 738.2 L924 738.2 L927 738.2 L930 738.2 L933 738.2 L936 738.2 L939 738.2 L942 738.2 L945 738.2 L948 738.2 L951 738.2 L954 738.2 L957 738.2 L960 738.2 L963 738.2 L966 738.2 L969 738.17 L972 738.1 L975 738.02 L978 737.94 L981 737.85 L984 737.76 L987 737.66 L990 737.57 L993 737.46 L996 737.36 L999 737.25 L1002 737.14 L1005 737.03 L1008 736.92 L1011 736.81 L1014 736.69 L1017 736.58 L1020 736.47 L1023 736.35 L1026 736.24 L1029 736.13 L1032 736.02 L1035 735.91 L1038 735.8 L1041 735.7 L1044 735.6 L1047 735.5 L1050 735.41 L1053 735.32 L1056 735.24 L1059 735.16 L1062 735.08 L1065 735.01 L1068 734.95 L1071 734.89 L1074 734.84 L1077 734.79 L1080 734.75 L1083 734.72 L1086 734.7 L1089 734.69 L1092 734.68 L1095 734.69 L1098 734.7 L1101 734.72 L1104 734.76 L1107 734.8 L1110 734.85 L1113 734.92 L1116 735 L1119 735.08 L1122 735.19 L1125 735.3 L1128 735.42 L1131 735.56 L1134 735.72 L1137 735.88 L1140 736.06 L1143 736.26 L1146 736.47 L1149 736.7 L1152 736.94 L1155 737.2 L1158 737.47 L1161 737.76 L1164 738.07 L1167 738.2 L1170 738.2 L1171.3 738.2" stroke="#ff00ff" stroke-width="3.3"/>
<path d="M213 723.72 L216 722.19 L219 720.68 L222 719.18 L225 717.69 L228 716.22 L231 714.75 L234 713.3 L237 711.87 L240 710.45 L243 709.04 L246 707.64 L249 706.26 L252 704.9 L255 703.54 L258 702.21 L261 700.89 L264 699.58 L267 698.3 L270 697.02 L273 695.77 L276 694.53 L279 693.31 L282 692.1 L285 690.92 L288 689.75 L291 688.6 L294 687.46 L297 686.35 L300 685.25 L303 684.18 L306 683.12 L309 682.09 L312 681.07 L315 680.07 L318 679.1 L321 678.14 L324 677.21 L327 676.3 L330 675.4 L333 674.54 L336 673.69 L339 672.86 L342 672.06 L345 671.28 L348 670.53 L351 669.79 L354 669.09 L357 668.4 L360 667.74 L363 667.1 L366 666.49 L369 665.91 L372 665.35 L375 664.81 L378 664.3 L381 663.82 L384 663.36 L387 662.93 L390 662.53 L393 662.14 L396 661.79 L399 661.46 L402 661.15 L405 660.87 L408 660.61 L411 660.37 L414 660.16 L417 659.97 L420 659.81 L423 659.66 L426 659.54 L429 659.44 L432 659.37 L435 659.31 L438 659.28 L441 659.27 L444 659.28 L447 659.31 L450 659.36 L453 659.43 L456 659.52 L459 659.63 L462 659.76 L465 659.91 L468 660.08 L471 660.26 L474 660.47 L477 660.69 L480 660.94 L483 661.2 L486 661.47 L489 661.77 L492 662.08 L495 662.41 L498 662.75 L501 663.12 L504 663.49 L507 663.89 L510 664.3 L513 664.72 L516 665.16 L519 665.62 L522 666.09 L525 666.57 L528 667.07 L531 667.58 L534 668.11 L537 668.65 L540 669.2 L543 669.77 L546 670.34 L549 670.93 L552 671.54 L555 672.15 L558 672.78 L561 673.41 L564 674.06 L567 674.71 L570 675.38 L573 676.06 L576 676.74 L579 677.44 L582 678.14 L585 678.85 L588 679.57 L591 680.3 L594 681.04 L597 681.78 L600 682.53 L603 683.28 L606 684.05 L609 684.81 L612 685.59 L615 686.36 L618 687.15 L621 687.94 L624 688.73 L627 689.52 L630 690.32 L633 691.13 L636 691.93 L639 692.74 L642 693.55 L645 694.37 L648 695.18 L651 696 L654 696.82 L657 697.64 L660 698.46 L663 699.28 L666 700.09 L669 700.91 L672 701.73 L675 702.55 L678 703.36 L681 704.18 L684 704.99 L687 705.8 L690 706.6 L693 707.41 L696 708.21 L699 709 L702 709.8 L705 710.58 L708 711.36 L711 712.14 L714 712.91 L717 713.68 L720 714.43 L723 715.19 L726 715.93 L729 716.67 L732 717.39 L735 718.11 L738 718.82 L741 719.53 L744 720.22 L747 720.9 L750 721.57 L753 722.23 L756 722.88 L759 723.52 L762 724.15 L765 724.76 L768 725.36 L771 725.95 L774 726.53 L777 727.09 L780 727.64 L783 728.17 L786 728.69 L789 729.19 L792 729.68 L795 730.15 L798 730.6 L801 731.05 L804 731.47 L807 731.88 L810 732.28 L813 732.66 L816 733.03 L819 733.39 L822 733.73 L825 734.06 L828 734.37 L831 734.67 L834 734.96 L837 735.24 L840 735.5 L843 735.75 L846 735.99 L849 736.22 L852 736.44 L855 736.65 L858 736.84 L861 737.02 L864 737.2 L867 737.36 L870 737.51 L873 737.66 L876 737.79 L879 737.91 L882 738.03 L885 738.13 L888 738.2 L891 738.2 L894 738.2 L897 738.2 L900 738.2 L903 738.2 L906 738.2 L909 738.2 L912 738.2 L915 738.2 L918 738.2 L921 738.2 L924 738.2 L927 738.2 L930 738.2 L933 738.2 L936 738.2 L939 738.2 L942 738.2 L945 738.2 L948 738.2 L951 738.2 L954 738.2 L957 738.2 L960 738.2 L963 738.2 L966 738.2 L969 738.2 L972 738.2 L975 738.14 L978 738.07 L981 737.99 L984 737.92 L987 737.85 L990 737.77 L993 737.69 L996 737.61 L999 737.53 L1002 737.45 L1005 737.37 L1008 737.29 L1011 737.21 L1014 737.13 L1017 737.05 L1020 736.97 L1023 736.89 L1026 736.81 L1029 736.73 L1032 736.66 L1035 736.58 L1038 736.51 L1041 736.44 L1044 736.38 L1047 736.31 L1050 736.25 L1053 736.19 L1056 736.14 L1059 736.08 L1062 736.04 L1065 735.99 L1068 735.95 L1071 735.91 L1074 735.88 L1077 735.86 L1080 735.83 L1083 735.82 L1086 735.81 L1089 735.8 L1092 735.8 L1095 735.81 L1098 735.82 L1101 735.84 L1104 735.86 L1107 735.9 L1110 735.94 L1113 735.98 L1116 736.04 L1119 736.1 L1122 736.17 L1125 736.25 L1128 736.34 L1131 736.43 L1134 736.54 L1137 736.65 L1140 736.77 L1143 736.9 L1146 737.05 L1149 737.2 L1152 737.36 L1155 737.53 L1158 737.72 L1161 737.91 L1164 738.11 L1167 738.2 L1170 738.2 L1171.3 738.2" stroke="#ffa500" stroke-width="3.3"/>
<path d="M213 731.95 L216 730.9 L219 729.86 L222 728.83 L225 727.83 L228 726.84 L231 725.87 L234 724.92 L237 723.99 L240 723.07 L243 722.17 L246 721.28 L249 720.41 L252 719.56 L255 718.73 L258 717.91 L261 717.11 L264 716.32 L267 715.56 L270 714.8 L273 714.07 L276 713.35 L279 712.64 L282 711.95 L285 711.28 L288 710.62 L291 709.98 L294 709.35 L297 708.74 L300 708.14 L303 707.56 L306 706.99 L309 706.44 L312 705.9 L315 705.38 L318 704.87 L321 704.38 L324 703.9 L327 703.44 L330 702.98 L333 702.55 L336 702.13 L339 701.72 L342 701.32 L345 700.94 L348 700.57 L351 700.22 L354 699.88 L357 699.55 L360 699.24 L363 698.94 L366 698.65 L369 698.37 L372 698.11 L375 697.86 L378 697.62 L381 697.4 L384 697.19 L387 696.99 L390 696.8 L393 696.62 L396 696.46 L399 696.31 L402 696.17 L405 696.04 L408 695.93 L411 695.82 L414 695.73 L417 695.65 L420 695.58 L423 695.52 L426 695.47 L429 695.43 L432 695.41 L435 695.39 L438 695.38 L441 695.39 L444 695.41 L447 695.43 L450 695.47 L453 695.52 L456 695.57 L459 695.64 L462 695.72 L465 695.81 L468 695.9 L471 696.01 L474 696.12 L477 696.25 L480 696.38 L483 696.53 L486 696.68 L489 696.84 L492 697.01 L495 697.19 L498 697.38 L501 697.58 L504 697.78 L507 698 L510 698.22 L513 698.45 L516 698.69 L519 698.94 L522 699.19 L525 699.45 L528 699.72 L531 700 L534 700.29 L537 700.58 L540 700.88 L543 701.19 L546 701.5 L549 701.82 L552 702.15 L555 702.49 L558 702.83 L561 703.17 L564 703.53 L567 703.89 L570 704.25 L573 704.62 L576 704.99 L579 705.37 L582 705.76 L585 706.14 L588 706.54 L591 706.93 L594 707.34 L597 707.74 L600 708.15 L603 708.56 L606 708.98 L609 709.4 L612 709.82 L615 710.25 L618 710.67 L621 711.1 L624 711.54 L627 711.97 L630 712.41 L633 712.85 L636 713.29 L639 713.73 L642 714.17 L645 714.62 L648 715.06 L651 715.51 L654 715.95 L657 716.4 L660 716.84 L663 717.29 L666 717.74 L669 718.18 L672 718.63 L675 719.07 L678 719.52 L681 719.96 L684 720.4 L687 720.84 L690 721.28 L693 721.71 L696 722.15 L699 722.58 L702 723.01 L705 723.44 L708 723.86 L711 724.28 L714 724.7 L717 725.12 L720 725.53 L723 725.94 L726 726.34 L729 726.74 L732 727.14 L735 727.53 L738 727.92 L741 728.3 L744 728.68 L747 729.05 L750 729.42 L753 729.78 L756 730.14 L759 730.49 L762 730.84 L765 731.18 L768 731.51 L771 731.84 L774 732.16 L777 732.47 L780 732.78 L783 733.08 L786 733.37 L789 733.65 L792 733.93 L795 734.2 L798 734.46 L801 734.71 L804 734.96 L807 735.2 L810 735.43 L813 735.65 L816 735.87 L819 736.08 L822 736.28 L825 736.48 L828 736.67 L831 736.86 L834 737.03 L837 737.2 L840 737.37 L843 737.53 L846 737.68 L849 737.83 L852 737.97 L855 738.1 L858 738.2 L861 738.2 L864 738.2 L867 738.2 L870 738.2 L873 738.2 L876 738.2 L879 738.2 L882 738.2 L885 738.2 L888 738.2 L891 738.2 L894 738.2 L897 738.2 L900 738.2 L903 738.2 L906 738.2 L909 738.2 L912 738.2 L915 738.2 L918 738.2 L921 738.2 L924 738.2 L927 738.2 L930 738.2 L933 738.2 L936 738.2 L939 738.2 L942 738.2 L945 738.2 L948 738.2 L951 738.2 L954 738.2 L957 738.2 L960 738.2 L963 738.2 L966 738.2 L969 738.2 L972 738.2 L975 738.2 L978 738.2 L981 738.2 L984 738.2 L987 738.2 L990 738.2 L993 738.2 L996 738.2 L999 738.2 L1002 738.2 L1005 738.2 L1008 738.2 L1011 738.2 L1014 738.2 L1017 738.2 L1020 738.2 L1023 738.2 L1026 738.2 L1029 738.2 L1032 738.2 L1035 738.2 L1038 738.2 L1041 738.2 L1044 738.2 L1047 738.2 L1050 738.2 L1053 738.2 L1056 738.2 L1059 738.2 L1062 738.2 L1065 738.2 L1068 738.2 L1071 738.2 L1074 738.2 L1077 738.2 L1080 738.2 L1083 738.2 L1086 738.2 L1089 738.2 L1092 738.2 L1095 738.2 L1098 738.2 L1101 738.2 L1104 738.19 L1107 738.17 L1110 738.15 L1113 738.13 L1116 738.12 L1119 738.11 L1122 738.1 L1125 738.09 L1128 738.08 L1131 738.08 L1134 738.08 L1137 738.08 L1140 738.09 L1143 738.1 L1146 738.11 L1149 738.13 L1152 738.15 L1155 738.17 L1158 738.2 L1161 738.2 L1164 738.2 L1167 738.2 L1170 738.2 L1171.3 738.2" stroke="#00a000" stroke-width="3.3"/>
</g>
<line x1="849.0" y1="87.3" x2="961.6" y2="87.3" stroke="#1515a8" stroke-width="4.6" stroke-dasharray="10 8"/>
<text x="972.5" y="104.1" font-family='"Liberation Sans", sans-serif' font-size="49.5" font-weight="normal" text-anchor="start" fill="#000">b. c.</text>
<line x1="849.0" y1="147.43" x2="961.6" y2="147.43" stroke="#000000" stroke-width="3.6"/>
<text x="972.5" y="164.23" font-family='"Liberation Sans", sans-serif' font-size="49.5" font-weight="normal" text-anchor="start" fill="#000">0 min</text>
<line x1="849.0" y1="207.56" x2="961.6" y2="207.56" stroke="#ff0000" stroke-width="3.6"/>
<text x="972.5" y="224.36" font-family='"Liberation Sans", sans-serif' font-size="49.5" font-weight="normal" text-anchor="start" fill="#000">5 min</text>
<line x1="849.0" y1="267.69" x2="961.6" y2="267.69" stroke="#00ff00" stroke-width="3.6"/>
<text x="972.5" y="284.49" font-family='"Liberation Sans", sans-serif' font-size="49.5" font-weight="normal" text-anchor="start" fill="#000">10 min</text>
<line x1="849.0" y1="327.82" x2="961.6" y2="327.82" stroke="#0000ff" stroke-width="3.6"/>
<text x="972.5" y="344.62" font-family='"Liberation Sans", sans-serif' font-size="49.5" font-weight="normal" text-anchor="start" fill="#000">15 min</text>
<line x1="849.0" y1="387.95" x2="961.6" y2="387.95" stroke="#00ffff" stroke-width="3.6"/>
<text x="972.5" y="404.75" font-family='"Liberation Sans", sans-serif' font-size="49.5" font-weight="normal" text-anchor="start" fill="#000">30 min</text>
<line x1="849.0" y1="448.08" x2="961.6" y2="448.08" stroke="#ff00ff" stroke-width="3.6"/>
<text x="972.5" y="464.88" font-family='"Liberation Sans", sans-serif' font-size="49.5" font-weight="normal" text-anchor="start" fill="#000">60 min</text>
<line x1="849.0" y1="508.21" x2="961.6" y2="508.21" stroke="#ffa500" stroke-width="3.6"/>
<text x="972.5" y="525.01" font-family='"Liberation Sans", sans-serif' font-size="49.5" font-weight="normal" text-anchor="start" fill="#000">90 min</text>
<line x1="849.0" y1="568.34" x2="961.6" y2="568.34" stroke="#00a000" stroke-width="3.6"/>
<text x="972.5" y="585.14" font-family='"Liberation Sans", sans-serif' font-size="49.5" font-weight="normal" text-anchor="start" fill="#000">120 min</text>
<text x="264" y="128" font-family='"Liberation Sans", sans-serif' font-size="70" font-weight="bold" text-anchor="middle" fill="#000">A</text>
<text transform="translate(81,325.5) rotate(-90)" font-family='"Liberation Sans", sans-serif' font-size="59.5" font-weight="bold" text-anchor="middle" fill="#000">Absorbance</text>
<text x="766" y="815.5" font-family='"Liberation Serif", "DejaVu Serif", serif' font-size="50" font-weight="normal" text-anchor="start" fill="#000">λ</text>
<text x="806" y="815.5" font-family='"Liberation Sans", sans-serif' font-size="53" font-weight="bold" text-anchor="start" fill="#000">(nm)</text>
<rect x="1189.6" y="37" width="0.9" height="702.4" fill="#ddd"/>
<rect x="1190.5" y="37" width="2.5" height="702.4" fill="#000"/>
<rect x="1193" y="37" width="1.3" height="702.4" fill="#ddd"/>
<rect x="2148.2" y="37" width="2.6" height="702.4" fill="#000"/>
<rect x="2150.8" y="37" width="2.2" height="702.4" fill="#555"/>
<rect x="1189.6" y="34.5" width="963.4" height="2.5" fill="#bbb"/>
<rect x="1189.6" y="37" width="963.4" height="2" fill="#000"/>
<rect x="1189.6" y="737.2" width="963.4" height="2.2" fill="#000"/>
<rect x="1189.6" y="739.4" width="963.4" height="2.4" fill="#888"/>
<rect x="1190.5" y="37" width="2.5" height="702.4" fill="#000"/>
<rect x="2148.2" y="37" width="2.6" height="702.4" fill="#000"/>
<line x1="2148.8" y1="271" x2="2125.6" y2="271" stroke="#0a0a0a" stroke-width="3.3"/>
<line x1="2148.8" y1="505" x2="2125.6" y2="505" stroke="#0a0a0a" stroke-width="3.3"/>
<line x1="2148.8" y1="154" x2="2136.6" y2="154" stroke="#0a0a0a" stroke-width="3.3"/>
<line x1="2148.8" y1="388" x2="2136.6" y2="388" stroke="#0a0a0a" stroke-width="3.3"/>
<line x1="2148.8" y1="622" x2="2136.6" y2="622" stroke="#0a0a0a" stroke-width="3.3"/>
<line x1="1362.5" y1="737.8" x2="1362.5" y2="715.8" stroke="#0a0a0a" stroke-width="3.3"/>
<line x1="1705.5" y1="737.8" x2="1705.5" y2="715.8" stroke="#0a0a0a" stroke-width="3.3"/>
<line x1="2048.5" y1="737.8" x2="2048.5" y2="715.8" stroke="#0a0a0a" stroke-width="3.3"/>
<line x1="1534" y1="737.8" x2="1534" y2="726.3" stroke="#0a0a0a" stroke-width="3.3"/>
<line x1="1877" y1="737.8" x2="1877" y2="726.3" stroke="#0a0a0a" stroke-width="3.3"/>
<text x="2167.5" y="59.32" font-family='"Liberation Sans", sans-serif' font-size="52" font-weight="bold" text-anchor="start" fill="#000">0.03</text>
<text x="2167.5" y="293.32" font-family='"Liberation Sans", sans-serif' font-size="52" font-weight="bold" text-anchor="start" fill="#000">0.02</text>
<text x="2167.5" y="527.32" font-family='"Liberation Sans", sans-serif' font-size="52" font-weight="bold" text-anchor="start" fill="#000">0.01</text>
<text x="2167.5" y="761.32" font-family='"Liberation Sans", sans-serif' font-size="52" font-weight="bold" text-anchor="start" fill="#000">0.00</text>
<text x="1369.75" y="797" font-family='"Liberation Sans", sans-serif' font-size="52" font-weight="bold" text-anchor="middle" fill="#000">400</text>
<text x="1712.5" y="797" font-family='"Liberation Sans", sans-serif' font-size="52" font-weight="bold" text-anchor="middle" fill="#000">500</text>
<text x="2055" y="797" font-family='"Liberation Sans", sans-serif' font-size="52" font-weight="bold" text-anchor="middle" fill="#000">600</text>
<g fill="none" stroke-linejoin="round" stroke-linecap="butt">
<path d="M1192.5 490.36 L1195.5 486.67 L1198.5 482.95 L1201.5 479.18 L1204.5 475.36 L1207.5 471.49 L1210.5 467.56 L1213.5 463.56 L1216.5 459.5 L1219.5 455.36 L1222.5 451.14 L1225.5 446.84 L1228.5 442.46 L1231.5 437.98 L1234.5 433.41 L1237.5 428.74 L1240.5 423.96 L1243.5 419.07 L1246.5 414.07 L1249.5 408.95 L1252.5 403.7 L1255.5 398.33 L1258.5 392.82 L1261.5 387.18 L1264.5 381.4 L1267.5 375.51 L1270.5 369.52 L1273.5 363.43 L1276.5 357.25 L1279.5 351.01 L1282.5 344.7 L1285.5 338.35 L1288.5 331.96 L1291.5 325.55 L1294.5 319.13 L1297.5 312.71 L1300.5 306.31 L1303.5 299.94 L1306.5 293.62 L1309.5 287.36 L1312.5 281.16 L1315.5 275.06 L1318.5 269.05 L1321.5 263.15 L1324.5 257.37 L1327.5 251.74 L1330.5 246.26 L1333.5 240.94 L1336.5 235.8 L1339.5 230.86 L1342.5 226.12 L1345.5 221.6 L1348.5 217.31 L1351.5 213.27 L1354.5 209.48 L1357.5 205.97 L1360.5 202.75 L1363.5 199.8 L1366.5 197.13 L1369.5 194.73 L1372.5 192.59 L1375.5 190.7 L1378.5 189.06 L1381.5 187.67 L1384.5 186.5 L1387.5 185.57 L1390.5 184.86 L1393.5 184.36 L1396.5 184.07 L1399.5 183.98 L1402.5 184.08 L1405.5 184.37 L1408.5 184.85 L1411.5 185.5 L1414.5 186.33 L1417.5 187.33 L1420.5 188.51 L1423.5 189.85 L1426.5 191.35 L1429.5 193.01 L1432.5 194.84 L1435.5 196.82 L1438.5 198.95 L1441.5 201.23 L1444.5 203.65 L1447.5 206.23 L1450.5 208.94 L1453.5 211.79 L1456.5 214.77 L1459.5 217.88 L1462.5 221.13 L1465.5 224.5 L1468.5 227.99 L1471.5 231.59 L1474.5 235.3 L1477.5 239.1 L1480.5 242.98 L1483.5 246.94 L1486.5 250.96 L1489.5 255.04 L1492.5 259.16 L1495.5 263.32 L1498.5 267.51 L1501.5 271.71 L1504.5 275.92 L1507.5 280.13 L1510.5 284.33 L1513.5 288.54 L1516.5 292.74 L1519.5 296.95 L1522.5 301.15 L1525.5 305.36 L1528.5 309.56 L1531.5 313.77 L1534.5 317.98 L1537.5 322.2 L1540.5 326.42 L1543.5 330.64 L1546.5 334.87 L1549.5 339.11 L1552.5 343.35 L1555.5 347.6 L1558.5 351.87 L1561.5 356.15 L1564.5 360.46 L1567.5 364.8 L1570.5 369.19 L1573.5 373.62 L1576.5 378.12 L1579.5 382.68 L1582.5 387.31 L1585.5 392.02 L1588.5 396.82 L1591.5 401.72 L1594.5 406.71 L1597.5 411.81 L1600.5 416.99 L1603.5 422.25 L1606.5 427.6 L1609.5 433.02 L1612.5 438.5 L1615.5 444.04 L1618.5 449.64 L1621.5 455.29 L1624.5 460.99 L1627.5 466.72 L1630.5 472.49 L1633.5 478.28 L1636.5 484.1 L1639.5 489.93 L1642.5 495.77 L1645.5 501.62 L1648.5 507.46 L1651.5 513.3 L1654.5 519.13 L1657.5 524.93 L1660.5 530.72 L1663.5 536.47 L1666.5 542.19 L1669.5 547.86 L1672.5 553.49 L1675.5 559.06 L1678.5 564.56 L1681.5 570 L1684.5 575.36 L1687.5 580.63 L1690.5 585.82 L1693.5 590.93 L1696.5 595.94 L1699.5 600.87 L1702.5 605.71 L1705.5 610.45 L1708.5 615.11 L1711.5 619.67 L1714.5 624.14 L1717.5 628.51 L1720.5 632.79 L1723.5 636.98 L1726.5 641.07 L1729.5 645.06 L1732.5 648.95 L1735.5 652.74 L1738.5 656.43 L1741.5 660.02 L1744.5 663.51 L1747.5 666.9 L1750.5 670.19 L1753.5 673.36 L1756.5 676.44 L1759.5 679.41 L1762.5 682.27 L1765.5 685.02 L1768.5 687.66 L1771.5 690.2 L1774.5 692.62 L1777.5 694.93 L1780.5 697.14 L1783.5 699.22 L1786.5 701.2 L1789.5 703.06 L1792.5 704.81 L1795.5 706.45 L1798.5 708 L1801.5 709.45 L1804.5 710.8 L1807.5 712.07 L1810.5 713.24 L1813.5 714.34 L1816.5 715.36 L1819.5 716.31 L1822.5 717.19 L1825.5 718 L1828.5 718.76 L1831.5 719.45 L1834.5 720.09 L1837.5 720.69 L1840.5 721.24 L1843.5 721.74 L1846.5 722.21 L1849.5 722.65 L1852.5 723.06 L1855.5 723.45 L1858.5 723.81 L1861.5 724.15 L1864.5 724.48 L1867.5 724.78 L1870.5 725.07 L1873.5 725.35 L1876.5 725.61 L1879.5 725.85 L1882.5 726.08 L1885.5 726.3 L1888.5 726.5 L1891.5 726.7 L1894.5 726.88 L1897.5 727.05 L1900.5 727.22 L1903.5 727.37 L1906.5 727.52 L1909.5 727.66 L1912.5 727.79 L1915.5 727.92 L1918.5 728.05 L1921.5 728.17 L1924.5 728.29 L1927.5 728.41 L1930.5 728.52 L1933.5 728.63 L1936.5 728.75 L1939.5 728.86 L1942.5 728.98 L1945.5 729.09 L1948.5 729.2 L1951.5 729.31 L1954.5 729.42 L1957.5 729.53 L1960.5 729.64 L1963.5 729.75 L1966.5 729.86 L1969.5 729.97 L1972.5 730.08 L1975.5 730.19 L1978.5 730.3 L1981.5 730.4 L1984.5 730.51 L1987.5 730.62 L1990.5 730.73 L1993.5 730.83 L1996.5 730.94 L1999.5 731.05 L2002.5 731.15 L2005.5 731.26 L2008.5 731.37 L2011.5 731.47 L2014.5 731.58 L2017.5 731.69 L2020.5 731.79 L2023.5 731.9 L2026.5 732 L2029.5 732.11 L2032.5 732.22 L2035.5 732.32 L2038.5 732.43 L2041.5 732.54 L2044.5 732.64 L2047.5 732.75 L2050.5 732.86 L2053.5 732.96 L2056.5 733.07 L2059.5 733.18 L2062.5 733.29 L2065.5 733.4 L2068.5 733.5 L2071.5 733.61 L2074.5 733.72 L2077.5 733.83 L2080.5 733.94 L2083.5 734.05 L2086.5 734.16 L2089.5 734.27 L2092.5 734.39 L2095.5 734.5 L2098.5 734.61 L2101.5 734.72 L2104.5 734.84 L2107.5 734.95 L2110.5 735.07 L2113.5 735.18 L2116.5 735.3 L2119.5 735.41 L2122.5 735.53 L2125.5 735.65 L2128.5 735.77 L2131.5 735.89 L2134.5 736.01 L2137.5 736.13 L2140.5 736.25 L2143.5 736.37 L2146.5 736.49 L2148.5 736.58" stroke="#1a1a1a" stroke-width="2.0"/>
<path d="M1192.5 443.1 L1195.5 442.03 L1198.5 440.75 L1201.5 439.27 L1204.5 437.6 L1207.5 435.76 L1210.5 433.75 L1213.5 431.58 L1216.5 429.27 L1219.5 426.84 L1222.5 424.28 L1225.5 421.61 L1228.5 418.85 L1231.5 416.01 L1234.5 413.09 L1237.5 410.11 L1240.5 407.09 L1243.5 404.02 L1246.5 400.93 L1249.5 397.83 L1252.5 394.72 L1255.5 391.62 L1258.5 388.55 L1261.5 385.5 L1264.5 382.44 L1267.5 379.3 L1270.5 376.01 L1273.5 372.53 L1276.5 368.79 L1279.5 364.78 L1282.5 360.63 L1285.5 356.45 L1288.5 352.32 L1291.5 348.24 L1294.5 344.21 L1297.5 340.23 L1300.5 336.31 L1303.5 332.46 L1306.5 328.67 L1309.5 324.95 L1312.5 321.3 L1315.5 317.74 L1318.5 314.25 L1321.5 310.85 L1324.5 307.55 L1327.5 304.33 L1330.5 301.21 L1333.5 298.2 L1336.5 295.28 L1339.5 292.48 L1342.5 289.79 L1345.5 287.22 L1348.5 284.76 L1351.5 282.44 L1354.5 280.24 L1357.5 278.17 L1360.5 276.24 L1363.5 274.44 L1366.5 272.79 L1369.5 271.29 L1372.5 269.94 L1375.5 268.75 L1378.5 267.71 L1381.5 266.84 L1384.5 266.13 L1387.5 265.59 L1390.5 265.22 L1393.5 265.01 L1396.5 264.96 L1399.5 265.08 L1402.5 265.37 L1405.5 265.81 L1408.5 266.41 L1411.5 267.17 L1414.5 268.09 L1417.5 269.17 L1420.5 270.4 L1423.5 271.79 L1426.5 273.32 L1429.5 275 L1432.5 276.82 L1435.5 278.77 L1438.5 280.85 L1441.5 283.05 L1444.5 285.37 L1447.5 287.81 L1450.5 290.35 L1453.5 293 L1456.5 295.75 L1459.5 298.59 L1462.5 301.52 L1465.5 304.53 L1468.5 307.62 L1471.5 310.79 L1474.5 314.02 L1477.5 317.32 L1480.5 320.67 L1483.5 324.08 L1486.5 327.54 L1489.5 331.04 L1492.5 334.57 L1495.5 338.14 L1498.5 341.74 L1501.5 345.36 L1504.5 348.99 L1507.5 352.64 L1510.5 356.29 L1513.5 359.95 L1516.5 363.6 L1519.5 367.24 L1522.5 370.87 L1525.5 374.48 L1528.5 378.06 L1531.5 381.62 L1534.5 385.15 L1537.5 388.66 L1540.5 392.16 L1543.5 395.66 L1546.5 399.17 L1549.5 402.68 L1552.5 406.21 L1555.5 409.78 L1558.5 413.37 L1561.5 417.01 L1564.5 420.7 L1567.5 424.44 L1570.5 428.23 L1573.5 432.07 L1576.5 435.97 L1579.5 439.91 L1582.5 443.89 L1585.5 447.92 L1588.5 451.99 L1591.5 456.1 L1594.5 460.24 L1597.5 464.42 L1600.5 468.63 L1603.5 472.88 L1606.5 477.15 L1609.5 481.45 L1612.5 485.77 L1615.5 490.12 L1618.5 494.49 L1621.5 498.88 L1624.5 503.29 L1627.5 507.71 L1630.5 512.14 L1633.5 516.58 L1636.5 521.04 L1639.5 525.5 L1642.5 529.97 L1645.5 534.44 L1648.5 538.91 L1651.5 543.38 L1654.5 547.85 L1657.5 552.31 L1660.5 556.77 L1663.5 561.22 L1666.5 565.66 L1669.5 570.08 L1672.5 574.49 L1675.5 578.89 L1678.5 583.26 L1681.5 587.62 L1684.5 591.95 L1687.5 596.26 L1690.5 600.54 L1693.5 604.79 L1696.5 609.01 L1699.5 613.18 L1702.5 617.3 L1705.5 621.36 L1708.5 625.37 L1711.5 629.31 L1714.5 633.19 L1717.5 636.98 L1720.5 640.7 L1723.5 644.32 L1726.5 647.86 L1729.5 651.3 L1732.5 654.63 L1735.5 657.86 L1738.5 660.97 L1741.5 663.97 L1744.5 666.84 L1747.5 669.57 L1750.5 672.19 L1753.5 674.68 L1756.5 677.05 L1759.5 679.3 L1762.5 681.45 L1765.5 683.5 L1768.5 685.45 L1771.5 687.3 L1774.5 689.07 L1777.5 690.75 L1780.5 692.35 L1783.5 693.88 L1786.5 695.33 L1789.5 696.72 L1792.5 698.05 L1795.5 699.33 L1798.5 700.55 L1801.5 701.72 L1804.5 702.84 L1807.5 703.91 L1810.5 704.94 L1813.5 705.92 L1816.5 706.85 L1819.5 707.74 L1822.5 708.59 L1825.5 709.39 L1828.5 710.16 L1831.5 710.88 L1834.5 711.57 L1837.5 712.22 L1840.5 712.84 L1843.5 713.42 L1846.5 713.97 L1849.5 714.49 L1852.5 714.98 L1855.5 715.44 L1858.5 715.87 L1861.5 716.27 L1864.5 716.65 L1867.5 717 L1870.5 717.33 L1873.5 717.64 L1876.5 717.92 L1879.5 718.19 L1882.5 718.44 L1885.5 718.67 L1888.5 718.89 L1891.5 719.09 L1894.5 719.27 L1897.5 719.45 L1900.5 719.61 L1903.5 719.77 L1906.5 719.91 L1909.5 720.05 L1912.5 720.18 L1915.5 720.3 L1918.5 720.43 L1921.5 720.55 L1924.5 720.66 L1927.5 720.78 L1930.5 720.9 L1933.5 721.02 L1936.5 721.14 L1939.5 721.27 L1942.5 721.41 L1945.5 721.55 L1948.5 721.69 L1951.5 721.85 L1954.5 722.01 L1957.5 722.18 L1960.5 722.35 L1963.5 722.53 L1966.5 722.71 L1969.5 722.9 L1972.5 723.09 L1975.5 723.29 L1978.5 723.5 L1981.5 723.7 L1984.5 723.92 L1987.5 724.13 L1990.5 724.35 L1993.5 724.58 L1996.5 724.8 L1999.5 725.03 L2002.5 725.27 L2005.5 725.5 L2008.5 725.74 L2011.5 725.98 L2014.5 726.22 L2017.5 726.47 L2020.5 726.71 L2023.5 726.96 L2026.5 727.21 L2029.5 727.46 L2032.5 727.71 L2035.5 727.96 L2038.5 728.22 L2041.5 728.47 L2044.5 728.72 L2047.5 728.97 L2050.5 729.23 L2053.5 729.48 L2056.5 729.73 L2059.5 729.98 L2062.5 730.22 L2065.5 730.47 L2068.5 730.71 L2071.5 730.96 L2074.5 731.2 L2077.5 731.44 L2080.5 731.67 L2083.5 731.9 L2086.5 732.14 L2089.5 732.36 L2092.5 732.59 L2095.5 732.81 L2098.5 733.02 L2101.5 733.23 L2104.5 733.44 L2107.5 733.64 L2110.5 733.84 L2113.5 734.04 L2116.5 734.23 L2119.5 734.41 L2122.5 734.59 L2125.5 734.76 L2128.5 734.93 L2131.5 735.09 L2134.5 735.24 L2137.5 735.39 L2140.5 735.53 L2143.5 735.66 L2146.5 735.79 L2148.5 735.87" stroke="#ff0000" stroke-width="2.0"/>
<path d="M1192.5 398.84 L1195.5 398.81 L1198.5 398.63 L1201.5 398.31 L1204.5 397.84 L1207.5 397.24 L1210.5 396.51 L1213.5 395.65 L1216.5 394.67 L1219.5 393.58 L1222.5 392.37 L1225.5 391.06 L1228.5 389.64 L1231.5 388.13 L1234.5 386.52 L1237.5 384.83 L1240.5 383.05 L1243.5 381.19 L1246.5 379.26 L1249.5 377.26 L1252.5 375.2 L1255.5 373.08 L1258.5 370.9 L1261.5 368.67 L1264.5 366.4 L1267.5 364.08 L1270.5 361.73 L1273.5 359.35 L1276.5 356.94 L1279.5 354.51 L1282.5 352.07 L1285.5 349.61 L1288.5 347.14 L1291.5 344.68 L1294.5 342.21 L1297.5 339.75 L1300.5 337.3 L1303.5 334.87 L1306.5 332.46 L1309.5 330.08 L1312.5 327.72 L1315.5 325.4 L1318.5 323.12 L1321.5 320.89 L1324.5 318.7 L1327.5 316.57 L1330.5 314.5 L1333.5 312.49 L1336.5 310.55 L1339.5 308.69 L1342.5 306.9 L1345.5 305.19 L1348.5 303.58 L1351.5 302.05 L1354.5 300.62 L1357.5 299.29 L1360.5 298.07 L1363.5 296.96 L1366.5 295.97 L1369.5 295.09 L1372.5 294.34 L1375.5 293.73 L1378.5 293.24 L1381.5 292.9 L1384.5 292.7 L1387.5 292.65 L1390.5 292.75 L1393.5 293 L1396.5 293.4 L1399.5 293.95 L1402.5 294.64 L1405.5 295.48 L1408.5 296.45 L1411.5 297.56 L1414.5 298.8 L1417.5 300.17 L1420.5 301.67 L1423.5 303.3 L1426.5 305.05 L1429.5 306.93 L1432.5 308.92 L1435.5 311.03 L1438.5 313.25 L1441.5 315.58 L1444.5 318.02 L1447.5 320.57 L1450.5 323.22 L1453.5 325.97 L1456.5 328.82 L1459.5 331.76 L1462.5 334.77 L1465.5 337.83 L1468.5 340.9 L1471.5 344 L1474.5 347.11 L1477.5 350.24 L1480.5 353.37 L1483.5 356.52 L1486.5 359.68 L1489.5 362.85 L1492.5 366.03 L1495.5 369.22 L1498.5 372.42 L1501.5 375.63 L1504.5 378.84 L1507.5 382.07 L1510.5 385.3 L1513.5 388.54 L1516.5 391.78 L1519.5 395.04 L1522.5 398.29 L1525.5 401.56 L1528.5 404.83 L1531.5 408.1 L1534.5 411.38 L1537.5 414.66 L1540.5 417.95 L1543.5 421.24 L1546.5 424.54 L1549.5 427.85 L1552.5 431.17 L1555.5 434.5 L1558.5 437.85 L1561.5 441.22 L1564.5 444.62 L1567.5 448.04 L1570.5 451.48 L1573.5 454.96 L1576.5 458.46 L1579.5 462.01 L1582.5 465.58 L1585.5 469.2 L1588.5 472.86 L1591.5 476.57 L1594.5 480.31 L1597.5 484.1 L1600.5 487.91 L1603.5 491.76 L1606.5 495.64 L1609.5 499.54 L1612.5 503.47 L1615.5 507.41 L1618.5 511.37 L1621.5 515.35 L1624.5 519.33 L1627.5 523.32 L1630.5 527.31 L1633.5 531.3 L1636.5 535.28 L1639.5 539.26 L1642.5 543.23 L1645.5 547.19 L1648.5 551.13 L1651.5 555.05 L1654.5 558.95 L1657.5 562.82 L1660.5 566.66 L1663.5 570.48 L1666.5 574.27 L1669.5 578.03 L1672.5 581.77 L1675.5 585.49 L1678.5 589.19 L1681.5 592.87 L1684.5 596.54 L1687.5 600.18 L1690.5 603.82 L1693.5 607.43 L1696.5 611.02 L1699.5 614.59 L1702.5 618.13 L1705.5 621.64 L1708.5 625.1 L1711.5 628.53 L1714.5 631.92 L1717.5 635.26 L1720.5 638.55 L1723.5 641.78 L1726.5 644.95 L1729.5 648.07 L1732.5 651.11 L1735.5 654.09 L1738.5 657 L1741.5 659.83 L1744.5 662.58 L1747.5 665.24 L1750.5 667.82 L1753.5 670.31 L1756.5 672.7 L1759.5 674.99 L1762.5 677.19 L1765.5 679.27 L1768.5 681.25 L1771.5 683.11 L1774.5 684.87 L1777.5 686.51 L1780.5 688.06 L1783.5 689.5 L1786.5 690.85 L1789.5 692.12 L1792.5 693.29 L1795.5 694.39 L1798.5 695.4 L1801.5 696.35 L1804.5 697.23 L1807.5 698.05 L1810.5 698.8 L1813.5 699.5 L1816.5 700.16 L1819.5 700.76 L1822.5 701.33 L1825.5 701.85 L1828.5 702.35 L1831.5 702.81 L1834.5 703.26 L1837.5 703.68 L1840.5 704.09 L1843.5 704.49 L1846.5 704.88 L1849.5 705.26 L1852.5 705.64 L1855.5 706.02 L1858.5 706.39 L1861.5 706.75 L1864.5 707.11 L1867.5 707.46 L1870.5 707.81 L1873.5 708.16 L1876.5 708.5 L1879.5 708.83 L1882.5 709.16 L1885.5 709.49 L1888.5 709.81 L1891.5 710.12 L1894.5 710.44 L1897.5 710.75 L1900.5 711.05 L1903.5 711.35 L1906.5 711.65 L1909.5 711.95 L1912.5 712.24 L1915.5 712.53 L1918.5 712.81 L1921.5 713.09 L1924.5 713.37 L1927.5 713.65 L1930.5 713.92 L1933.5 714.19 L1936.5 714.46 L1939.5 714.73 L1942.5 714.99 L1945.5 715.25 L1948.5 715.51 L1951.5 715.77 L1954.5 716.02 L1957.5 716.28 L1960.5 716.53 L1963.5 716.78 L1966.5 717.03 L1969.5 717.27 L1972.5 717.52 L1975.5 717.76 L1978.5 718 L1981.5 718.25 L1984.5 718.49 L1987.5 718.73 L1990.5 718.96 L1993.5 719.2 L1996.5 719.44 L1999.5 719.67 L2002.5 719.91 L2005.5 720.14 L2008.5 720.38 L2011.5 720.61 L2014.5 720.84 L2017.5 721.08 L2020.5 721.31 L2023.5 721.54 L2026.5 721.77 L2029.5 722.01 L2032.5 722.24 L2035.5 722.47 L2038.5 722.7 L2041.5 722.94 L2044.5 723.17 L2047.5 723.4 L2050.5 723.64 L2053.5 723.87 L2056.5 724.11 L2059.5 724.35 L2062.5 724.58 L2065.5 724.82 L2068.5 725.06 L2071.5 725.3 L2074.5 725.55 L2077.5 725.79 L2080.5 726.03 L2083.5 726.28 L2086.5 726.53 L2089.5 726.78 L2092.5 727.03 L2095.5 727.28 L2098.5 727.53 L2101.5 727.79 L2104.5 728.05 L2107.5 728.31 L2110.5 728.57 L2113.5 728.83 L2116.5 729.1 L2119.5 729.37 L2122.5 729.64 L2125.5 729.91 L2128.5 730.19 L2131.5 730.47 L2134.5 730.75 L2137.5 731.04 L2140.5 731.32 L2143.5 731.61 L2146.5 731.91 L2148.5 732.11" stroke="#00ff00" stroke-width="3.6"/>
<path d="M1192.5 434.3 L1195.5 434.89 L1198.5 435.37 L1201.5 435.74 L1204.5 436 L1207.5 436.16 L1210.5 436.23 L1213.5 436.2 L1216.5 436.07 L1219.5 435.86 L1222.5 435.56 L1225.5 435.18 L1228.5 434.72 L1231.5 434.19 L1234.5 433.58 L1237.5 432.91 L1240.5 432.17 L1243.5 431.38 L1246.5 430.52 L1249.5 429.61 L1252.5 428.64 L1255.5 427.63 L1258.5 426.58 L1261.5 425.49 L1264.5 424.35 L1267.5 423.19 L1270.5 421.99 L1273.5 420.76 L1276.5 419.52 L1279.5 418.25 L1282.5 416.96 L1285.5 415.66 L1288.5 414.35 L1291.5 413.04 L1294.5 411.72 L1297.5 410.4 L1300.5 409.08 L1303.5 407.77 L1306.5 406.47 L1309.5 405.19 L1312.5 403.92 L1315.5 402.67 L1318.5 401.45 L1321.5 400.25 L1324.5 399.08 L1327.5 397.95 L1330.5 396.86 L1333.5 395.8 L1336.5 394.79 L1339.5 393.83 L1342.5 392.92 L1345.5 392.07 L1348.5 391.27 L1351.5 390.53 L1354.5 389.86 L1357.5 389.26 L1360.5 388.73 L1363.5 388.27 L1366.5 387.89 L1369.5 387.6 L1372.5 387.39 L1375.5 387.27 L1378.5 387.24 L1381.5 387.3 L1384.5 387.47 L1387.5 387.73 L1390.5 388.1 L1393.5 388.59 L1396.5 389.18 L1399.5 389.89 L1402.5 390.7 L1405.5 391.62 L1408.5 392.64 L1411.5 393.77 L1414.5 394.98 L1417.5 396.29 L1420.5 397.69 L1423.5 399.17 L1426.5 400.74 L1429.5 402.38 L1432.5 404.1 L1435.5 405.89 L1438.5 407.74 L1441.5 409.67 L1444.5 411.65 L1447.5 413.69 L1450.5 415.79 L1453.5 417.94 L1456.5 420.13 L1459.5 422.38 L1462.5 424.66 L1465.5 426.98 L1468.5 429.33 L1471.5 431.72 L1474.5 434.13 L1477.5 436.57 L1480.5 439.03 L1483.5 441.5 L1486.5 443.99 L1489.5 446.49 L1492.5 449 L1495.5 451.51 L1498.5 454.02 L1501.5 456.53 L1504.5 459.03 L1507.5 461.53 L1510.5 464.01 L1513.5 466.47 L1516.5 468.92 L1519.5 471.34 L1522.5 473.75 L1525.5 476.14 L1528.5 478.53 L1531.5 480.9 L1534.5 483.26 L1537.5 485.63 L1540.5 487.98 L1543.5 490.34 L1546.5 492.7 L1549.5 495.07 L1552.5 497.45 L1555.5 499.83 L1558.5 502.23 L1561.5 504.64 L1564.5 507.06 L1567.5 509.51 L1570.5 511.98 L1573.5 514.48 L1576.5 517 L1579.5 519.55 L1582.5 522.13 L1585.5 524.74 L1588.5 527.39 L1591.5 530.08 L1594.5 532.82 L1597.5 535.59 L1600.5 538.41 L1603.5 541.28 L1606.5 544.2 L1609.5 547.18 L1612.5 550.21 L1615.5 553.29 L1618.5 556.43 L1621.5 559.62 L1624.5 562.84 L1627.5 566.09 L1630.5 569.36 L1633.5 572.64 L1636.5 575.94 L1639.5 579.23 L1642.5 582.51 L1645.5 585.77 L1648.5 589.01 L1651.5 592.21 L1654.5 595.38 L1657.5 598.5 L1660.5 601.56 L1663.5 604.56 L1666.5 607.49 L1669.5 610.36 L1672.5 613.16 L1675.5 615.91 L1678.5 618.61 L1681.5 621.25 L1684.5 623.85 L1687.5 626.4 L1690.5 628.91 L1693.5 631.39 L1696.5 633.83 L1699.5 636.24 L1702.5 638.63 L1705.5 640.99 L1708.5 643.33 L1711.5 645.65 L1714.5 647.96 L1717.5 650.25 L1720.5 652.53 L1723.5 654.79 L1726.5 657.03 L1729.5 659.25 L1732.5 661.45 L1735.5 663.62 L1738.5 665.77 L1741.5 667.88 L1744.5 669.97 L1747.5 672.03 L1750.5 674.05 L1753.5 676.02 L1756.5 677.94 L1759.5 679.79 L1762.5 681.56 L1765.5 683.26 L1768.5 684.87 L1771.5 686.37 L1774.5 687.78 L1777.5 689.1 L1780.5 690.34 L1783.5 691.5 L1786.5 692.6 L1789.5 693.65 L1792.5 694.64 L1795.5 695.6 L1798.5 696.52 L1801.5 697.4 L1804.5 698.25 L1807.5 699.07 L1810.5 699.86 L1813.5 700.62 L1816.5 701.35 L1819.5 702.04 L1822.5 702.71 L1825.5 703.36 L1828.5 703.97 L1831.5 704.56 L1834.5 705.13 L1837.5 705.67 L1840.5 706.18 L1843.5 706.68 L1846.5 707.15 L1849.5 707.6 L1852.5 708.03 L1855.5 708.44 L1858.5 708.84 L1861.5 709.21 L1864.5 709.57 L1867.5 709.91 L1870.5 710.24 L1873.5 710.55 L1876.5 710.85 L1879.5 711.13 L1882.5 711.41 L1885.5 711.67 L1888.5 711.92 L1891.5 712.16 L1894.5 712.39 L1897.5 712.62 L1900.5 712.83 L1903.5 713.05 L1906.5 713.25 L1909.5 713.45 L1912.5 713.65 L1915.5 713.84 L1918.5 714.03 L1921.5 714.22 L1924.5 714.41 L1927.5 714.6 L1930.5 714.79 L1933.5 714.98 L1936.5 715.17 L1939.5 715.37 L1942.5 715.57 L1945.5 715.77 L1948.5 715.99 L1951.5 716.2 L1954.5 716.42 L1957.5 716.64 L1960.5 716.87 L1963.5 717.1 L1966.5 717.34 L1969.5 717.58 L1972.5 717.82 L1975.5 718.07 L1978.5 718.32 L1981.5 718.57 L1984.5 718.83 L1987.5 719.08 L1990.5 719.34 L1993.5 719.61 L1996.5 719.87 L1999.5 720.14 L2002.5 720.41 L2005.5 720.68 L2008.5 720.96 L2011.5 721.23 L2014.5 721.51 L2017.5 721.79 L2020.5 722.07 L2023.5 722.34 L2026.5 722.63 L2029.5 722.91 L2032.5 723.19 L2035.5 723.47 L2038.5 723.75 L2041.5 724.03 L2044.5 724.32 L2047.5 724.6 L2050.5 724.88 L2053.5 725.16 L2056.5 725.44 L2059.5 725.72 L2062.5 726 L2065.5 726.27 L2068.5 726.55 L2071.5 726.82 L2074.5 727.1 L2077.5 727.37 L2080.5 727.64 L2083.5 727.9 L2086.5 728.17 L2089.5 728.43 L2092.5 728.69 L2095.5 728.94 L2098.5 729.2 L2101.5 729.45 L2104.5 729.7 L2107.5 729.94 L2110.5 730.18 L2113.5 730.42 L2116.5 730.65 L2119.5 730.88 L2122.5 731.11 L2125.5 731.33 L2128.5 731.54 L2131.5 731.76 L2134.5 731.96 L2137.5 732.17 L2140.5 732.36 L2143.5 732.56 L2146.5 732.74 L2148.5 732.86" stroke="#0000ff" stroke-width="3.6"/>
<path d="M1192.5 535.88 L1195.5 536.42 L1198.5 536.9 L1201.5 537.33 L1204.5 537.71 L1207.5 538.03 L1210.5 538.31 L1213.5 538.53 L1216.5 538.71 L1219.5 538.84 L1222.5 538.93 L1225.5 538.98 L1228.5 538.99 L1231.5 538.95 L1234.5 538.88 L1237.5 538.77 L1240.5 538.63 L1243.5 538.46 L1246.5 538.25 L1249.5 538.01 L1252.5 537.74 L1255.5 537.45 L1258.5 537.13 L1261.5 536.79 L1264.5 536.42 L1267.5 536.04 L1270.5 535.63 L1273.5 535.21 L1276.5 534.77 L1279.5 534.31 L1282.5 533.85 L1285.5 533.37 L1288.5 532.88 L1291.5 532.38 L1294.5 531.87 L1297.5 531.36 L1300.5 530.84 L1303.5 530.32 L1306.5 529.81 L1309.5 529.29 L1312.5 528.77 L1315.5 528.26 L1318.5 527.75 L1321.5 527.24 L1324.5 526.75 L1327.5 526.27 L1330.5 525.79 L1333.5 525.33 L1336.5 524.89 L1339.5 524.46 L1342.5 524.04 L1345.5 523.65 L1348.5 523.28 L1351.5 522.92 L1354.5 522.6 L1357.5 522.29 L1360.5 522.02 L1363.5 521.77 L1366.5 521.55 L1369.5 521.36 L1372.5 521.2 L1375.5 521.08 L1378.5 521 L1381.5 520.95 L1384.5 520.94 L1387.5 520.97 L1390.5 521.04 L1393.5 521.15 L1396.5 521.31 L1399.5 521.5 L1402.5 521.74 L1405.5 522.01 L1408.5 522.32 L1411.5 522.66 L1414.5 523.05 L1417.5 523.46 L1420.5 523.91 L1423.5 524.39 L1426.5 524.91 L1429.5 525.45 L1432.5 526.02 L1435.5 526.63 L1438.5 527.26 L1441.5 527.91 L1444.5 528.6 L1447.5 529.31 L1450.5 530.04 L1453.5 530.8 L1456.5 531.58 L1459.5 532.38 L1462.5 533.2 L1465.5 534.04 L1468.5 534.9 L1471.5 535.78 L1474.5 536.67 L1477.5 537.58 L1480.5 538.51 L1483.5 539.44 L1486.5 540.4 L1489.5 541.36 L1492.5 542.34 L1495.5 543.32 L1498.5 544.32 L1501.5 545.34 L1504.5 546.36 L1507.5 547.4 L1510.5 548.44 L1513.5 549.51 L1516.5 550.58 L1519.5 551.67 L1522.5 552.78 L1525.5 553.9 L1528.5 555.03 L1531.5 556.18 L1534.5 557.34 L1537.5 558.52 L1540.5 559.71 L1543.5 560.93 L1546.5 562.15 L1549.5 563.4 L1552.5 564.66 L1555.5 565.94 L1558.5 567.23 L1561.5 568.55 L1564.5 569.88 L1567.5 571.23 L1570.5 572.6 L1573.5 573.99 L1576.5 575.4 L1579.5 576.83 L1582.5 578.28 L1585.5 579.74 L1588.5 581.23 L1591.5 582.74 L1594.5 584.27 L1597.5 585.82 L1600.5 587.39 L1603.5 588.97 L1606.5 590.57 L1609.5 592.19 L1612.5 593.82 L1615.5 595.46 L1618.5 597.12 L1621.5 598.79 L1624.5 600.47 L1627.5 602.16 L1630.5 603.86 L1633.5 605.57 L1636.5 607.28 L1639.5 609.01 L1642.5 610.73 L1645.5 612.47 L1648.5 614.2 L1651.5 615.94 L1654.5 617.68 L1657.5 619.43 L1660.5 621.17 L1663.5 622.91 L1666.5 624.66 L1669.5 626.39 L1672.5 628.13 L1675.5 629.86 L1678.5 631.59 L1681.5 633.31 L1684.5 635.02 L1687.5 636.73 L1690.5 638.43 L1693.5 640.12 L1696.5 641.8 L1699.5 643.46 L1702.5 645.12 L1705.5 646.76 L1708.5 648.39 L1711.5 650 L1714.5 651.6 L1717.5 653.18 L1720.5 654.74 L1723.5 656.29 L1726.5 657.81 L1729.5 659.32 L1732.5 660.8 L1735.5 662.26 L1738.5 663.7 L1741.5 665.12 L1744.5 666.51 L1747.5 667.88 L1750.5 669.22 L1753.5 670.53 L1756.5 671.81 L1759.5 673.07 L1762.5 674.29 L1765.5 675.49 L1768.5 676.65 L1771.5 677.78 L1774.5 678.88 L1777.5 679.94 L1780.5 680.98 L1783.5 681.98 L1786.5 682.96 L1789.5 683.9 L1792.5 684.82 L1795.5 685.7 L1798.5 686.56 L1801.5 687.4 L1804.5 688.2 L1807.5 688.98 L1810.5 689.74 L1813.5 690.47 L1816.5 691.18 L1819.5 691.87 L1822.5 692.53 L1825.5 693.17 L1828.5 693.79 L1831.5 694.39 L1834.5 694.97 L1837.5 695.53 L1840.5 696.08 L1843.5 696.6 L1846.5 697.11 L1849.5 697.6 L1852.5 698.08 L1855.5 698.54 L1858.5 698.98 L1861.5 699.41 L1864.5 699.83 L1867.5 700.24 L1870.5 700.63 L1873.5 701.01 L1876.5 701.38 L1879.5 701.74 L1882.5 702.09 L1885.5 702.44 L1888.5 702.77 L1891.5 703.1 L1894.5 703.42 L1897.5 703.73 L1900.5 704.04 L1903.5 704.34 L1906.5 704.64 L1909.5 704.94 L1912.5 705.23 L1915.5 705.52 L1918.5 705.81 L1921.5 706.09 L1924.5 706.38 L1927.5 706.67 L1930.5 706.95 L1933.5 707.24 L1936.5 707.53 L1939.5 707.82 L1942.5 708.12 L1945.5 708.42 L1948.5 708.73 L1951.5 709.03 L1954.5 709.35 L1957.5 709.66 L1960.5 709.98 L1963.5 710.3 L1966.5 710.63 L1969.5 710.95 L1972.5 711.28 L1975.5 711.62 L1978.5 711.95 L1981.5 712.29 L1984.5 712.63 L1987.5 712.97 L1990.5 713.32 L1993.5 713.66 L1996.5 714.01 L1999.5 714.36 L2002.5 714.71 L2005.5 715.06 L2008.5 715.42 L2011.5 715.77 L2014.5 716.13 L2017.5 716.49 L2020.5 716.84 L2023.5 717.2 L2026.5 717.56 L2029.5 717.92 L2032.5 718.28 L2035.5 718.64 L2038.5 718.99 L2041.5 719.35 L2044.5 719.71 L2047.5 720.07 L2050.5 720.43 L2053.5 720.78 L2056.5 721.14 L2059.5 721.49 L2062.5 721.84 L2065.5 722.2 L2068.5 722.55 L2071.5 722.9 L2074.5 723.24 L2077.5 723.59 L2080.5 723.93 L2083.5 724.27 L2086.5 724.61 L2089.5 724.95 L2092.5 725.29 L2095.5 725.62 L2098.5 725.95 L2101.5 726.27 L2104.5 726.6 L2107.5 726.92 L2110.5 727.23 L2113.5 727.55 L2116.5 727.86 L2119.5 728.16 L2122.5 728.47 L2125.5 728.77 L2128.5 729.06 L2131.5 729.35 L2134.5 729.64 L2137.5 729.92 L2140.5 730.2 L2143.5 730.47 L2146.5 730.74 L2148.5 730.91" stroke="#00ffff" stroke-width="3.6"/>
<path d="M1192.5 588.84 L1195.5 588.85 L1198.5 588.83 L1201.5 588.77 L1204.5 588.68 L1207.5 588.57 L1210.5 588.43 L1213.5 588.26 L1216.5 588.06 L1219.5 587.84 L1222.5 587.59 L1225.5 587.32 L1228.5 587.03 L1231.5 586.72 L1234.5 586.38 L1237.5 586.03 L1240.5 585.66 L1243.5 585.27 L1246.5 584.86 L1249.5 584.44 L1252.5 584.01 L1255.5 583.56 L1258.5 583.09 L1261.5 582.62 L1264.5 582.13 L1267.5 581.63 L1270.5 581.13 L1273.5 580.61 L1276.5 580.09 L1279.5 579.56 L1282.5 579.03 L1285.5 578.49 L1288.5 577.95 L1291.5 577.41 L1294.5 576.86 L1297.5 576.31 L1300.5 575.77 L1303.5 575.22 L1306.5 574.68 L1309.5 574.14 L1312.5 573.61 L1315.5 573.07 L1318.5 572.55 L1321.5 572.03 L1324.5 571.52 L1327.5 571.02 L1330.5 570.53 L1333.5 570.05 L1336.5 569.58 L1339.5 569.12 L1342.5 568.68 L1345.5 568.25 L1348.5 567.83 L1351.5 567.44 L1354.5 567.06 L1357.5 566.69 L1360.5 566.35 L1363.5 566.03 L1366.5 565.73 L1369.5 565.45 L1372.5 565.19 L1375.5 564.95 L1378.5 564.75 L1381.5 564.56 L1384.5 564.41 L1387.5 564.28 L1390.5 564.18 L1393.5 564.11 L1396.5 564.07 L1399.5 564.06 L1402.5 564.08 L1405.5 564.14 L1408.5 564.23 L1411.5 564.35 L1414.5 564.5 L1417.5 564.68 L1420.5 564.89 L1423.5 565.13 L1426.5 565.41 L1429.5 565.71 L1432.5 566.04 L1435.5 566.39 L1438.5 566.78 L1441.5 567.19 L1444.5 567.63 L1447.5 568.1 L1450.5 568.59 L1453.5 569.11 L1456.5 569.65 L1459.5 570.22 L1462.5 570.81 L1465.5 571.42 L1468.5 572.06 L1471.5 572.72 L1474.5 573.41 L1477.5 574.11 L1480.5 574.84 L1483.5 575.59 L1486.5 576.36 L1489.5 577.15 L1492.5 577.96 L1495.5 578.79 L1498.5 579.63 L1501.5 580.5 L1504.5 581.38 L1507.5 582.29 L1510.5 583.21 L1513.5 584.14 L1516.5 585.09 L1519.5 586.06 L1522.5 587.05 L1525.5 588.04 L1528.5 589.06 L1531.5 590.09 L1534.5 591.13 L1537.5 592.18 L1540.5 593.25 L1543.5 594.33 L1546.5 595.42 L1549.5 596.52 L1552.5 597.64 L1555.5 598.76 L1558.5 599.89 L1561.5 601.04 L1564.5 602.19 L1567.5 603.35 L1570.5 604.53 L1573.5 605.7 L1576.5 606.89 L1579.5 608.08 L1582.5 609.28 L1585.5 610.49 L1588.5 611.7 L1591.5 612.92 L1594.5 614.15 L1597.5 615.38 L1600.5 616.62 L1603.5 617.87 L1606.5 619.13 L1609.5 620.4 L1612.5 621.68 L1615.5 622.98 L1618.5 624.29 L1621.5 625.62 L1624.5 626.96 L1627.5 628.33 L1630.5 629.71 L1633.5 631.11 L1636.5 632.53 L1639.5 633.97 L1642.5 635.44 L1645.5 636.92 L1648.5 638.42 L1651.5 639.94 L1654.5 641.47 L1657.5 643.01 L1660.5 644.55 L1663.5 646.11 L1666.5 647.67 L1669.5 649.23 L1672.5 650.8 L1675.5 652.36 L1678.5 653.92 L1681.5 655.48 L1684.5 657.03 L1687.5 658.57 L1690.5 660.09 L1693.5 661.61 L1696.5 663.11 L1699.5 664.6 L1702.5 666.07 L1705.5 667.52 L1708.5 668.95 L1711.5 670.37 L1714.5 671.76 L1717.5 673.12 L1720.5 674.47 L1723.5 675.78 L1726.5 677.07 L1729.5 678.33 L1732.5 679.56 L1735.5 680.76 L1738.5 681.93 L1741.5 683.06 L1744.5 684.16 L1747.5 685.24 L1750.5 686.28 L1753.5 687.3 L1756.5 688.29 L1759.5 689.26 L1762.5 690.2 L1765.5 691.12 L1768.5 692.02 L1771.5 692.9 L1774.5 693.76 L1777.5 694.61 L1780.5 695.43 L1783.5 696.24 L1786.5 697.02 L1789.5 697.8 L1792.5 698.55 L1795.5 699.28 L1798.5 700 L1801.5 700.71 L1804.5 701.39 L1807.5 702.06 L1810.5 702.72 L1813.5 703.36 L1816.5 703.98 L1819.5 704.59 L1822.5 705.18 L1825.5 705.76 L1828.5 706.32 L1831.5 706.87 L1834.5 707.41 L1837.5 707.93 L1840.5 708.44 L1843.5 708.93 L1846.5 709.42 L1849.5 709.89 L1852.5 710.35 L1855.5 710.79 L1858.5 711.23 L1861.5 711.65 L1864.5 712.06 L1867.5 712.46 L1870.5 712.85 L1873.5 713.23 L1876.5 713.59 L1879.5 713.95 L1882.5 714.3 L1885.5 714.64 L1888.5 714.97 L1891.5 715.29 L1894.5 715.6 L1897.5 715.9 L1900.5 716.19 L1903.5 716.48 L1906.5 716.76 L1909.5 717.03 L1912.5 717.29 L1915.5 717.55 L1918.5 717.8 L1921.5 718.04 L1924.5 718.28 L1927.5 718.51 L1930.5 718.73 L1933.5 718.95 L1936.5 719.16 L1939.5 719.37 L1942.5 719.57 L1945.5 719.77 L1948.5 719.97 L1951.5 720.16 L1954.5 720.35 L1957.5 720.53 L1960.5 720.71 L1963.5 720.89 L1966.5 721.06 L1969.5 721.23 L1972.5 721.4 L1975.5 721.57 L1978.5 721.73 L1981.5 721.9 L1984.5 722.06 L1987.5 722.22 L1990.5 722.38 L1993.5 722.54 L1996.5 722.7 L1999.5 722.86 L2002.5 723.02 L2005.5 723.18 L2008.5 723.34 L2011.5 723.5 L2014.5 723.67 L2017.5 723.83 L2020.5 724 L2023.5 724.17 L2026.5 724.34 L2029.5 724.51 L2032.5 724.69 L2035.5 724.87 L2038.5 725.05 L2041.5 725.23 L2044.5 725.42 L2047.5 725.61 L2050.5 725.81 L2053.5 726.01 L2056.5 726.22 L2059.5 726.43 L2062.5 726.65 L2065.5 726.87 L2068.5 727.1 L2071.5 727.33 L2074.5 727.57 L2077.5 727.82 L2080.5 728.07 L2083.5 728.34 L2086.5 728.6 L2089.5 728.88 L2092.5 729.16 L2095.5 729.45 L2098.5 729.75 L2101.5 730.06 L2104.5 730.38 L2107.5 730.7 L2110.5 731.04 L2113.5 731.38 L2116.5 731.74 L2119.5 732.1 L2122.5 732.47 L2125.5 732.86 L2128.5 733.26 L2131.5 733.66 L2134.5 734.08 L2137.5 734.51 L2140.5 734.95 L2143.5 735.41 L2146.5 735.87 L2148.5 736.19" stroke="#ff00ff" stroke-width="3.6"/>
<path d="M1192.5 599.42 L1195.5 599.53 L1198.5 599.62 L1201.5 599.71 L1204.5 599.79 L1207.5 599.86 L1210.5 599.92 L1213.5 599.97 L1216.5 600.01 L1219.5 600.04 L1222.5 600.06 L1225.5 600.08 L1228.5 600.09 L1231.5 600.09 L1234.5 600.09 L1237.5 600.08 L1240.5 600.06 L1243.5 600.04 L1246.5 600.02 L1249.5 599.99 L1252.5 599.95 L1255.5 599.91 L1258.5 599.87 L1261.5 599.82 L1264.5 599.77 L1267.5 599.72 L1270.5 599.67 L1273.5 599.61 L1276.5 599.55 L1279.5 599.5 L1282.5 599.44 L1285.5 599.38 L1288.5 599.32 L1291.5 599.26 L1294.5 599.2 L1297.5 599.14 L1300.5 599.08 L1303.5 599.02 L1306.5 598.97 L1309.5 598.92 L1312.5 598.87 L1315.5 598.82 L1318.5 598.78 L1321.5 598.74 L1324.5 598.71 L1327.5 598.68 L1330.5 598.65 L1333.5 598.63 L1336.5 598.62 L1339.5 598.61 L1342.5 598.61 L1345.5 598.61 L1348.5 598.62 L1351.5 598.64 L1354.5 598.67 L1357.5 598.7 L1360.5 598.75 L1363.5 598.8 L1366.5 598.86 L1369.5 598.93 L1372.5 599.01 L1375.5 599.1 L1378.5 599.2 L1381.5 599.31 L1384.5 599.43 L1387.5 599.56 L1390.5 599.71 L1393.5 599.86 L1396.5 600.03 L1399.5 600.21 L1402.5 600.4 L1405.5 600.6 L1408.5 600.81 L1411.5 601.03 L1414.5 601.26 L1417.5 601.51 L1420.5 601.76 L1423.5 602.03 L1426.5 602.3 L1429.5 602.59 L1432.5 602.88 L1435.5 603.19 L1438.5 603.5 L1441.5 603.83 L1444.5 604.17 L1447.5 604.51 L1450.5 604.87 L1453.5 605.24 L1456.5 605.62 L1459.5 606 L1462.5 606.4 L1465.5 606.81 L1468.5 607.22 L1471.5 607.65 L1474.5 608.08 L1477.5 608.53 L1480.5 608.98 L1483.5 609.45 L1486.5 609.92 L1489.5 610.4 L1492.5 610.9 L1495.5 611.4 L1498.5 611.91 L1501.5 612.43 L1504.5 612.96 L1507.5 613.49 L1510.5 614.04 L1513.5 614.59 L1516.5 615.16 L1519.5 615.73 L1522.5 616.31 L1525.5 616.9 L1528.5 617.5 L1531.5 618.11 L1534.5 618.72 L1537.5 619.35 L1540.5 619.98 L1543.5 620.62 L1546.5 621.27 L1549.5 621.93 L1552.5 622.59 L1555.5 623.27 L1558.5 623.95 L1561.5 624.64 L1564.5 625.33 L1567.5 626.04 L1570.5 626.75 L1573.5 627.47 L1576.5 628.2 L1579.5 628.93 L1582.5 629.67 L1585.5 630.41 L1588.5 631.17 L1591.5 631.92 L1594.5 632.69 L1597.5 633.45 L1600.5 634.23 L1603.5 635 L1606.5 635.79 L1609.5 636.57 L1612.5 637.36 L1615.5 638.16 L1618.5 638.95 L1621.5 639.75 L1624.5 640.55 L1627.5 641.36 L1630.5 642.17 L1633.5 642.98 L1636.5 643.79 L1639.5 644.6 L1642.5 645.41 L1645.5 646.23 L1648.5 647.04 L1651.5 647.86 L1654.5 648.67 L1657.5 649.49 L1660.5 650.3 L1663.5 651.12 L1666.5 651.93 L1669.5 652.74 L1672.5 653.55 L1675.5 654.36 L1678.5 655.17 L1681.5 655.98 L1684.5 656.78 L1687.5 657.58 L1690.5 658.37 L1693.5 659.17 L1696.5 659.96 L1699.5 660.74 L1702.5 661.53 L1705.5 662.3 L1708.5 663.08 L1711.5 663.85 L1714.5 664.61 L1717.5 665.37 L1720.5 666.12 L1723.5 666.86 L1726.5 667.6 L1729.5 668.34 L1732.5 669.06 L1735.5 669.78 L1738.5 670.5 L1741.5 671.2 L1744.5 671.9 L1747.5 672.59 L1750.5 673.27 L1753.5 673.94 L1756.5 674.61 L1759.5 675.27 L1762.5 675.92 L1765.5 676.56 L1768.5 677.19 L1771.5 677.82 L1774.5 678.44 L1777.5 679.06 L1780.5 679.66 L1783.5 680.26 L1786.5 680.86 L1789.5 681.44 L1792.5 682.02 L1795.5 682.59 L1798.5 683.16 L1801.5 683.72 L1804.5 684.27 L1807.5 684.82 L1810.5 685.36 L1813.5 685.89 L1816.5 686.42 L1819.5 686.94 L1822.5 687.46 L1825.5 687.97 L1828.5 688.48 L1831.5 688.97 L1834.5 689.47 L1837.5 689.96 L1840.5 690.44 L1843.5 690.92 L1846.5 691.39 L1849.5 691.86 L1852.5 692.32 L1855.5 692.78 L1858.5 693.24 L1861.5 693.69 L1864.5 694.13 L1867.5 694.57 L1870.5 695.01 L1873.5 695.44 L1876.5 695.86 L1879.5 696.29 L1882.5 696.71 L1885.5 697.12 L1888.5 697.53 L1891.5 697.94 L1894.5 698.34 L1897.5 698.74 L1900.5 699.14 L1903.5 699.53 L1906.5 699.92 L1909.5 700.31 L1912.5 700.7 L1915.5 701.08 L1918.5 701.45 L1921.5 701.83 L1924.5 702.2 L1927.5 702.57 L1930.5 702.94 L1933.5 703.3 L1936.5 703.66 L1939.5 704.02 L1942.5 704.38 L1945.5 704.74 L1948.5 705.09 L1951.5 705.44 L1954.5 705.79 L1957.5 706.14 L1960.5 706.49 L1963.5 706.83 L1966.5 707.17 L1969.5 707.51 L1972.5 707.86 L1975.5 708.19 L1978.5 708.53 L1981.5 708.87 L1984.5 709.21 L1987.5 709.54 L1990.5 709.87 L1993.5 710.21 L1996.5 710.54 L1999.5 710.87 L2002.5 711.21 L2005.5 711.54 L2008.5 711.87 L2011.5 712.2 L2014.5 712.53 L2017.5 712.86 L2020.5 713.2 L2023.5 713.53 L2026.5 713.86 L2029.5 714.19 L2032.5 714.53 L2035.5 714.86 L2038.5 715.19 L2041.5 715.53 L2044.5 715.86 L2047.5 716.2 L2050.5 716.54 L2053.5 716.88 L2056.5 717.22 L2059.5 717.56 L2062.5 717.9 L2065.5 718.25 L2068.5 718.59 L2071.5 718.94 L2074.5 719.29 L2077.5 719.64 L2080.5 719.99 L2083.5 720.35 L2086.5 720.71 L2089.5 721.07 L2092.5 721.43 L2095.5 721.79 L2098.5 722.16 L2101.5 722.53 L2104.5 722.9 L2107.5 723.27 L2110.5 723.65 L2113.5 724.03 L2116.5 724.42 L2119.5 724.8 L2122.5 725.19 L2125.5 725.58 L2128.5 725.98 L2131.5 726.38 L2134.5 726.78 L2137.5 727.19 L2140.5 727.6 L2143.5 728.02 L2146.5 728.44 L2148.5 728.72" stroke="#ffa500" stroke-width="3.6"/>
<path d="M1192.5 643.39 L1195.5 643.31 L1198.5 643.23 L1201.5 643.15 L1204.5 643.06 L1207.5 642.97 L1210.5 642.87 L1213.5 642.77 L1216.5 642.67 L1219.5 642.56 L1222.5 642.45 L1225.5 642.34 L1228.5 642.22 L1231.5 642.11 L1234.5 641.99 L1237.5 641.87 L1240.5 641.75 L1243.5 641.63 L1246.5 641.5 L1249.5 641.38 L1252.5 641.25 L1255.5 641.13 L1258.5 641 L1261.5 640.87 L1264.5 640.75 L1267.5 640.62 L1270.5 640.5 L1273.5 640.37 L1276.5 640.25 L1279.5 640.13 L1282.5 640 L1285.5 639.88 L1288.5 639.77 L1291.5 639.65 L1294.5 639.54 L1297.5 639.43 L1300.5 639.32 L1303.5 639.21 L1306.5 639.11 L1309.5 639.01 L1312.5 638.91 L1315.5 638.82 L1318.5 638.73 L1321.5 638.65 L1324.5 638.57 L1327.5 638.49 L1330.5 638.42 L1333.5 638.35 L1336.5 638.29 L1339.5 638.23 L1342.5 638.18 L1345.5 638.14 L1348.5 638.1 L1351.5 638.07 L1354.5 638.04 L1357.5 638.02 L1360.5 638.01 L1363.5 638 L1366.5 638 L1369.5 638.01 L1372.5 638.03 L1375.5 638.05 L1378.5 638.08 L1381.5 638.12 L1384.5 638.17 L1387.5 638.22 L1390.5 638.29 L1393.5 638.36 L1396.5 638.45 L1399.5 638.54 L1402.5 638.64 L1405.5 638.75 L1408.5 638.88 L1411.5 639.01 L1414.5 639.15 L1417.5 639.3 L1420.5 639.47 L1423.5 639.64 L1426.5 639.82 L1429.5 640.01 L1432.5 640.21 L1435.5 640.42 L1438.5 640.64 L1441.5 640.87 L1444.5 641.11 L1447.5 641.35 L1450.5 641.61 L1453.5 641.87 L1456.5 642.15 L1459.5 642.43 L1462.5 642.72 L1465.5 643.02 L1468.5 643.32 L1471.5 643.64 L1474.5 643.96 L1477.5 644.29 L1480.5 644.63 L1483.5 644.98 L1486.5 645.33 L1489.5 645.7 L1492.5 646.07 L1495.5 646.44 L1498.5 646.83 L1501.5 647.22 L1504.5 647.62 L1507.5 648.03 L1510.5 648.44 L1513.5 648.86 L1516.5 649.29 L1519.5 649.72 L1522.5 650.17 L1525.5 650.61 L1528.5 651.07 L1531.5 651.53 L1534.5 651.99 L1537.5 652.47 L1540.5 652.95 L1543.5 653.43 L1546.5 653.92 L1549.5 654.42 L1552.5 654.92 L1555.5 655.43 L1558.5 655.94 L1561.5 656.46 L1564.5 656.99 L1567.5 657.52 L1570.5 658.05 L1573.5 658.59 L1576.5 659.14 L1579.5 659.69 L1582.5 660.24 L1585.5 660.8 L1588.5 661.37 L1591.5 661.94 L1594.5 662.51 L1597.5 663.09 L1600.5 663.67 L1603.5 664.25 L1606.5 664.84 L1609.5 665.43 L1612.5 666.03 L1615.5 666.63 L1618.5 667.23 L1621.5 667.83 L1624.5 668.44 L1627.5 669.05 L1630.5 669.66 L1633.5 670.27 L1636.5 670.88 L1639.5 671.5 L1642.5 672.12 L1645.5 672.73 L1648.5 673.35 L1651.5 673.97 L1654.5 674.59 L1657.5 675.21 L1660.5 675.83 L1663.5 676.45 L1666.5 677.07 L1669.5 677.69 L1672.5 678.31 L1675.5 678.93 L1678.5 679.55 L1681.5 680.16 L1684.5 680.78 L1687.5 681.39 L1690.5 682 L1693.5 682.61 L1696.5 683.22 L1699.5 683.82 L1702.5 684.42 L1705.5 685.02 L1708.5 685.62 L1711.5 686.21 L1714.5 686.8 L1717.5 687.39 L1720.5 687.97 L1723.5 688.55 L1726.5 689.13 L1729.5 689.7 L1732.5 690.26 L1735.5 690.83 L1738.5 691.38 L1741.5 691.93 L1744.5 692.48 L1747.5 693.02 L1750.5 693.56 L1753.5 694.09 L1756.5 694.61 L1759.5 695.13 L1762.5 695.64 L1765.5 696.14 L1768.5 696.64 L1771.5 697.13 L1774.5 697.62 L1777.5 698.09 L1780.5 698.56 L1783.5 699.03 L1786.5 699.49 L1789.5 699.94 L1792.5 700.38 L1795.5 700.82 L1798.5 701.25 L1801.5 701.67 L1804.5 702.09 L1807.5 702.51 L1810.5 702.91 L1813.5 703.32 L1816.5 703.71 L1819.5 704.1 L1822.5 704.49 L1825.5 704.87 L1828.5 705.24 L1831.5 705.61 L1834.5 705.97 L1837.5 706.33 L1840.5 706.68 L1843.5 707.03 L1846.5 707.38 L1849.5 707.71 L1852.5 708.05 L1855.5 708.38 L1858.5 708.7 L1861.5 709.02 L1864.5 709.34 L1867.5 709.65 L1870.5 709.96 L1873.5 710.26 L1876.5 710.56 L1879.5 710.86 L1882.5 711.15 L1885.5 711.44 L1888.5 711.73 L1891.5 712.01 L1894.5 712.29 L1897.5 712.56 L1900.5 712.83 L1903.5 713.1 L1906.5 713.37 L1909.5 713.63 L1912.5 713.89 L1915.5 714.15 L1918.5 714.4 L1921.5 714.65 L1924.5 714.9 L1927.5 715.15 L1930.5 715.39 L1933.5 715.63 L1936.5 715.87 L1939.5 716.11 L1942.5 716.34 L1945.5 716.58 L1948.5 716.81 L1951.5 717.04 L1954.5 717.27 L1957.5 717.49 L1960.5 717.72 L1963.5 717.94 L1966.5 718.17 L1969.5 718.39 L1972.5 718.61 L1975.5 718.83 L1978.5 719.04 L1981.5 719.26 L1984.5 719.48 L1987.5 719.69 L1990.5 719.91 L1993.5 720.12 L1996.5 720.34 L1999.5 720.55 L2002.5 720.77 L2005.5 720.98 L2008.5 721.19 L2011.5 721.41 L2014.5 721.62 L2017.5 721.83 L2020.5 722.05 L2023.5 722.26 L2026.5 722.48 L2029.5 722.69 L2032.5 722.91 L2035.5 723.13 L2038.5 723.35 L2041.5 723.56 L2044.5 723.78 L2047.5 724 L2050.5 724.23 L2053.5 724.45 L2056.5 724.67 L2059.5 724.9 L2062.5 725.13 L2065.5 725.36 L2068.5 725.59 L2071.5 725.82 L2074.5 726.05 L2077.5 726.29 L2080.5 726.53 L2083.5 726.77 L2086.5 727.01 L2089.5 727.26 L2092.5 727.51 L2095.5 727.76 L2098.5 728.01 L2101.5 728.26 L2104.5 728.52 L2107.5 728.78 L2110.5 729.05 L2113.5 729.32 L2116.5 729.59 L2119.5 729.86 L2122.5 730.14 L2125.5 730.42 L2128.5 730.7 L2131.5 730.99 L2134.5 731.28 L2137.5 731.57 L2140.5 731.87 L2143.5 732.17 L2146.5 732.48 L2148.5 732.68" stroke="#00a000" stroke-width="3.6"/>
</g>
<line x1="1812.0" y1="102.5" x2="1923.6" y2="102.5" stroke="#000000" stroke-width="2.2"/>
<text x="1935" y="119.3" font-family='"Liberation Sans", sans-serif' font-size="49.5" font-weight="normal" text-anchor="start" fill="#000">0 min</text>
<line x1="1812.0" y1="162.68" x2="1923.6" y2="162.68" stroke="#ff0000" stroke-width="2.2"/>
<text x="1935" y="179.48" font-family='"Liberation Sans", sans-serif' font-size="49.5" font-weight="normal" text-anchor="start" fill="#000">5 min</text>
<line x1="1812.0" y1="222.86" x2="1923.6" y2="222.86" stroke="#00ff00" stroke-width="4.2"/>
<text x="1935" y="239.66" font-family='"Liberation Sans", sans-serif' font-size="49.5" font-weight="normal" text-anchor="start" fill="#000">10 min</text>
<line x1="1812.0" y1="283.04" x2="1923.6" y2="283.04" stroke="#0000ff" stroke-width="4.2"/>
<text x="1935" y="299.84" font-family='"Liberation Sans", sans-serif' font-size="49.5" font-weight="normal" text-anchor="start" fill="#000">15 min</text>
<line x1="1812.0" y1="343.22" x2="1923.6" y2="343.22" stroke="#00ffff" stroke-width="4.2"/>
<text x="1935" y="360.02" font-family='"Liberation Sans", sans-serif' font-size="49.5" font-weight="normal" text-anchor="start" fill="#000">30 min</text>
<line x1="1812.0" y1="403.4" x2="1923.6" y2="403.4" stroke="#ff00ff" stroke-width="4.2"/>
<text x="1935" y="420.2" font-family='"Liberation Sans", sans-serif' font-size="49.5" font-weight="normal" text-anchor="start" fill="#000">60 min</text>
<line x1="1812.0" y1="463.58" x2="1923.6" y2="463.58" stroke="#ffa500" stroke-width="4.2"/>
<text x="1935" y="480.38" font-family='"Liberation Sans", sans-serif' font-size="49.5" font-weight="normal" text-anchor="start" fill="#000">90 min</text>
<line x1="1812.0" y1="523.76" x2="1923.6" y2="523.76" stroke="#00a000" stroke-width="4.2"/>
<text x="1935" y="540.56" font-family='"Liberation Sans", sans-serif' font-size="49.5" font-weight="normal" text-anchor="start" fill="#000">120 min</text>
<text x="1246.5" y="115.5" font-family='"Liberation Sans", sans-serif' font-size="66" font-weight="bold" text-anchor="middle" fill="#000">B</text>
<text x="1766" y="807.5" font-family='"Liberation Serif", "DejaVu Serif", serif' font-size="50" font-weight="normal" text-anchor="start" fill="#000">λ</text>
<text x="1807.5" y="807.5" font-family='"Liberation Sans", sans-serif' font-size="53" font-weight="bold" text-anchor="start" fill="#000">(nm)</text>
<rect x="208.3" y="838.1" width="2.6" height="663.7" fill="#999"/>
<rect x="210.9" y="838.1" width="2" height="663.7" fill="#000"/>
<rect x="1169" y="838.1" width="2" height="663.7" fill="#000"/>
<rect x="1171" y="838.1" width="2.6" height="663.7" fill="#999"/>
<rect x="208.3" y="835.4" width="965.3" height="2.7" fill="#555"/>
<rect x="208.3" y="838.1" width="965.3" height="1.7" fill="#000"/>
<rect x="208.3" y="1497.1" width="965.3" height="4.7" fill="#2d2d2d"/>
<rect x="210.9" y="838.1" width="2" height="663.7" fill="#000"/>
<rect x="1169" y="838.1" width="2" height="663.7" fill="#000"/>
<line x1="212.4" y1="878.6" x2="235.6" y2="878.6" stroke="#0a0a0a" stroke-width="3.3"/>
<line x1="212.4" y1="1085.8" x2="235.6" y2="1085.8" stroke="#0a0a0a" stroke-width="3.3"/>
<line x1="212.4" y1="1293" x2="235.6" y2="1293" stroke="#0a0a0a" stroke-width="3.3"/>
<line x1="212.4" y1="982.2" x2="224.6" y2="982.2" stroke="#0a0a0a" stroke-width="3.3"/>
<line x1="212.4" y1="1189.4" x2="224.6" y2="1189.4" stroke="#0a0a0a" stroke-width="3.3"/>
<line x1="212.4" y1="1396.6" x2="224.6" y2="1396.6" stroke="#0a0a0a" stroke-width="3.3"/>
<line x1="248" y1="1497.6" x2="248" y2="1475.6" stroke="#0a0a0a" stroke-width="3.3"/>
<line x1="469.43" y1="1497.6" x2="469.43" y2="1475.6" stroke="#0a0a0a" stroke-width="3.3"/>
<line x1="690.86" y1="1497.6" x2="690.86" y2="1475.6" stroke="#0a0a0a" stroke-width="3.3"/>
<line x1="912.29" y1="1497.6" x2="912.29" y2="1475.6" stroke="#0a0a0a" stroke-width="3.3"/>
<line x1="1133.72" y1="1497.6" x2="1133.72" y2="1475.6" stroke="#0a0a0a" stroke-width="3.3"/>
<line x1="358.72" y1="1497.6" x2="358.72" y2="1486.1" stroke="#0a0a0a" stroke-width="3.3"/>
<line x1="580.14" y1="1497.6" x2="580.14" y2="1486.1" stroke="#0a0a0a" stroke-width="3.3"/>
<line x1="801.58" y1="1497.6" x2="801.58" y2="1486.1" stroke="#0a0a0a" stroke-width="3.3"/>
<line x1="1023" y1="1497.6" x2="1023" y2="1486.1" stroke="#0a0a0a" stroke-width="3.3"/>
<text x="194" y="900.52" font-family='"Liberation Sans", sans-serif' font-size="52" font-weight="bold" text-anchor="end" fill="#000">0</text>
<text x="190.5" y="1107.72" font-family='"Liberation Sans", sans-serif' font-size="52" font-weight="bold" text-anchor="end" fill="#000">-1</text>
<text x="194" y="1314.92" font-family='"Liberation Sans", sans-serif' font-size="52" font-weight="bold" text-anchor="end" fill="#000">-2</text>
<text x="194" y="1520.32" font-family='"Liberation Sans", sans-serif' font-size="52" font-weight="bold" text-anchor="end" fill="#000">-3</text>
<text x="248" y="1565" font-family='"Liberation Sans", sans-serif' font-size="52" font-weight="bold" text-anchor="middle" fill="#000">0</text>
<text x="469.43" y="1565" font-family='"Liberation Sans", sans-serif' font-size="52" font-weight="bold" text-anchor="middle" fill="#000">30</text>
<text x="690.86" y="1565" font-family='"Liberation Sans", sans-serif' font-size="52" font-weight="bold" text-anchor="middle" fill="#000">60</text>
<text x="912.29" y="1565" font-family='"Liberation Sans", sans-serif' font-size="52" font-weight="bold" text-anchor="middle" fill="#000">90</text>
<text x="1133.72" y="1565" font-family='"Liberation Sans", sans-serif' font-size="52" font-weight="bold" text-anchor="middle" fill="#000">120</text>
<line x1="246.5" y1="884.23" x2="1133.5" y2="1415.81" stroke="#00ff00" stroke-width="2.6" stroke-dasharray="23 23.3"/>
<rect x="231.9" y="862.75" width="32" height="32" fill="#00ff00"/>
<rect x="269.1" y="887.4" width="32" height="32" fill="#00ff00"/>
<rect x="305.5" y="900.75" width="32" height="32" fill="#00ff00"/>
<rect x="342.75" y="935.6" width="32" height="32" fill="#00ff00"/>
<rect x="453.25" y="1026.1" width="32" height="32" fill="#00ff00"/>
<rect x="674.6" y="1137.5" width="32" height="32" fill="#00ff00"/>
<rect x="896.1" y="1281.25" width="32" height="32" fill="#00ff00"/>
<rect x="1117.5" y="1384.75" width="32" height="32" fill="#00ff00"/>
<text x="1077" y="942.3" font-family='"Liberation Sans", sans-serif' font-size="68" font-weight="bold" text-anchor="middle" fill="#000">C</text>
<text transform="translate(86,1185) rotate(-90)" font-family='"Liberation Sans", sans-serif' font-size="59.3" font-weight="bold" text-anchor="middle" fill="#000">ln(C/C<tspan font-size="36.6" dy="22.5">0</tspan><tspan dy="-22.5">)</tspan></text>
<text x="805" y="1598.75" font-family='"Liberation Sans", sans-serif' font-size="53" font-weight="bold" text-anchor="middle" fill="#000">t (min)</text>
<rect x="1188.1" y="835.4" width="4.7" height="663.7" fill="#2d2d2d"/>
<rect x="2146.5" y="835.4" width="2.5" height="663.7" fill="#000"/>
<rect x="2149" y="835.4" width="2.2" height="663.7" fill="#888"/>
<rect x="1188.1" y="835.4" width="963.1" height="4.7" fill="#2d2d2d"/>
<rect x="1188.1" y="1497.1" width="963.1" height="2" fill="#000"/>
<rect x="1188.1" y="1499.1" width="963.1" height="2.7" fill="#777"/>
<rect x="1188.1" y="835.4" width="4.7" height="663.7" fill="#2d2d2d"/>
<rect x="2146.5" y="835.4" width="2.5" height="663.7" fill="#000"/>
<line x1="2147" y1="897.5" x2="2123.8" y2="897.5" stroke="#0a0a0a" stroke-width="3.3"/>
<line x1="2147" y1="1198.25" x2="2123.8" y2="1198.25" stroke="#0a0a0a" stroke-width="3.3"/>
<line x1="2147" y1="1047.88" x2="2134.8" y2="1047.88" stroke="#0a0a0a" stroke-width="3.3"/>
<line x1="2147" y1="1348.62" x2="2134.8" y2="1348.62" stroke="#0a0a0a" stroke-width="3.3"/>
<line x1="1226.6" y1="1497.6" x2="1226.6" y2="1475.6" stroke="#0a0a0a" stroke-width="3.3"/>
<line x1="1447.97" y1="1497.6" x2="1447.97" y2="1475.6" stroke="#0a0a0a" stroke-width="3.3"/>
<line x1="1669.34" y1="1497.6" x2="1669.34" y2="1475.6" stroke="#0a0a0a" stroke-width="3.3"/>
<line x1="1890.71" y1="1497.6" x2="1890.71" y2="1475.6" stroke="#0a0a0a" stroke-width="3.3"/>
<line x1="2112.08" y1="1497.6" x2="2112.08" y2="1475.6" stroke="#0a0a0a" stroke-width="3.3"/>
<line x1="1337.28" y1="1497.6" x2="1337.28" y2="1486.1" stroke="#0a0a0a" stroke-width="3.3"/>
<line x1="1558.65" y1="1497.6" x2="1558.65" y2="1486.1" stroke="#0a0a0a" stroke-width="3.3"/>
<line x1="1780.02" y1="1497.6" x2="1780.02" y2="1486.1" stroke="#0a0a0a" stroke-width="3.3"/>
<line x1="2001.39" y1="1497.6" x2="2001.39" y2="1486.1" stroke="#0a0a0a" stroke-width="3.3"/>
<text x="2173.5" y="912.52" font-family='"Liberation Sans", sans-serif' font-size="52" font-weight="bold" text-anchor="start" fill="#000">0</text>
<text x="2172" y="1213.27" font-family='"Liberation Sans", sans-serif' font-size="52" font-weight="bold" text-anchor="start" fill="#000">-1</text>
<text x="2173.5" y="1514.02" font-family='"Liberation Sans", sans-serif' font-size="52" font-weight="bold" text-anchor="start" fill="#000">-2</text>
<text x="1226.6" y="1564.5" font-family='"Liberation Sans", sans-serif' font-size="52" font-weight="bold" text-anchor="middle" fill="#000">0</text>
<text x="1448.4" y="1564.5" font-family='"Liberation Sans", sans-serif' font-size="52" font-weight="bold" text-anchor="middle" fill="#000">30</text>
<text x="1669.75" y="1564.5" font-family='"Liberation Sans", sans-serif' font-size="52" font-weight="bold" text-anchor="middle" fill="#000">60</text>
<text x="1889.75" y="1564.5" font-family='"Liberation Sans", sans-serif' font-size="52" font-weight="bold" text-anchor="middle" fill="#000">90</text>
<text x="2112.5" y="1564.5" font-family='"Liberation Sans", sans-serif' font-size="52" font-weight="bold" text-anchor="middle" fill="#000">120</text>
<line x1="1226.5" y1="873.9" x2="1448.3" y2="1137.4" stroke="#00aa00" stroke-width="2.6" stroke-dasharray="23 28.8"/>
<circle cx="1227" cy="897.5" r="18" fill="#00aa00"/>
<circle cx="1263.75" cy="915.75" r="18" fill="#00aa00"/>
<circle cx="1300.5" cy="934.5" r="18" fill="#00aa00"/>
<circle cx="1338" cy="1005.5" r="18" fill="#00aa00"/>
<circle cx="1448.25" cy="1149.5" r="18" fill="#00aa00"/>
<circle cx="1669.4" cy="1214.5" r="18" fill="#00aa00"/>
<circle cx="1890.5" cy="1282.5" r="18" fill="#00aa00"/>
<circle cx="2112.1" cy="1380.8" r="18" fill="#00aa00"/>
<text x="2056.5" y="942" font-family='"Liberation Sans", sans-serif' font-size="66" font-weight="bold" text-anchor="middle" fill="#000">D</text>
<text x="1784" y="1595.5" font-family='"Liberation Sans", sans-serif' font-size="53" font-weight="bold" text-anchor="middle" fill="#000">t (min)</text>
</svg>
</body></html>
